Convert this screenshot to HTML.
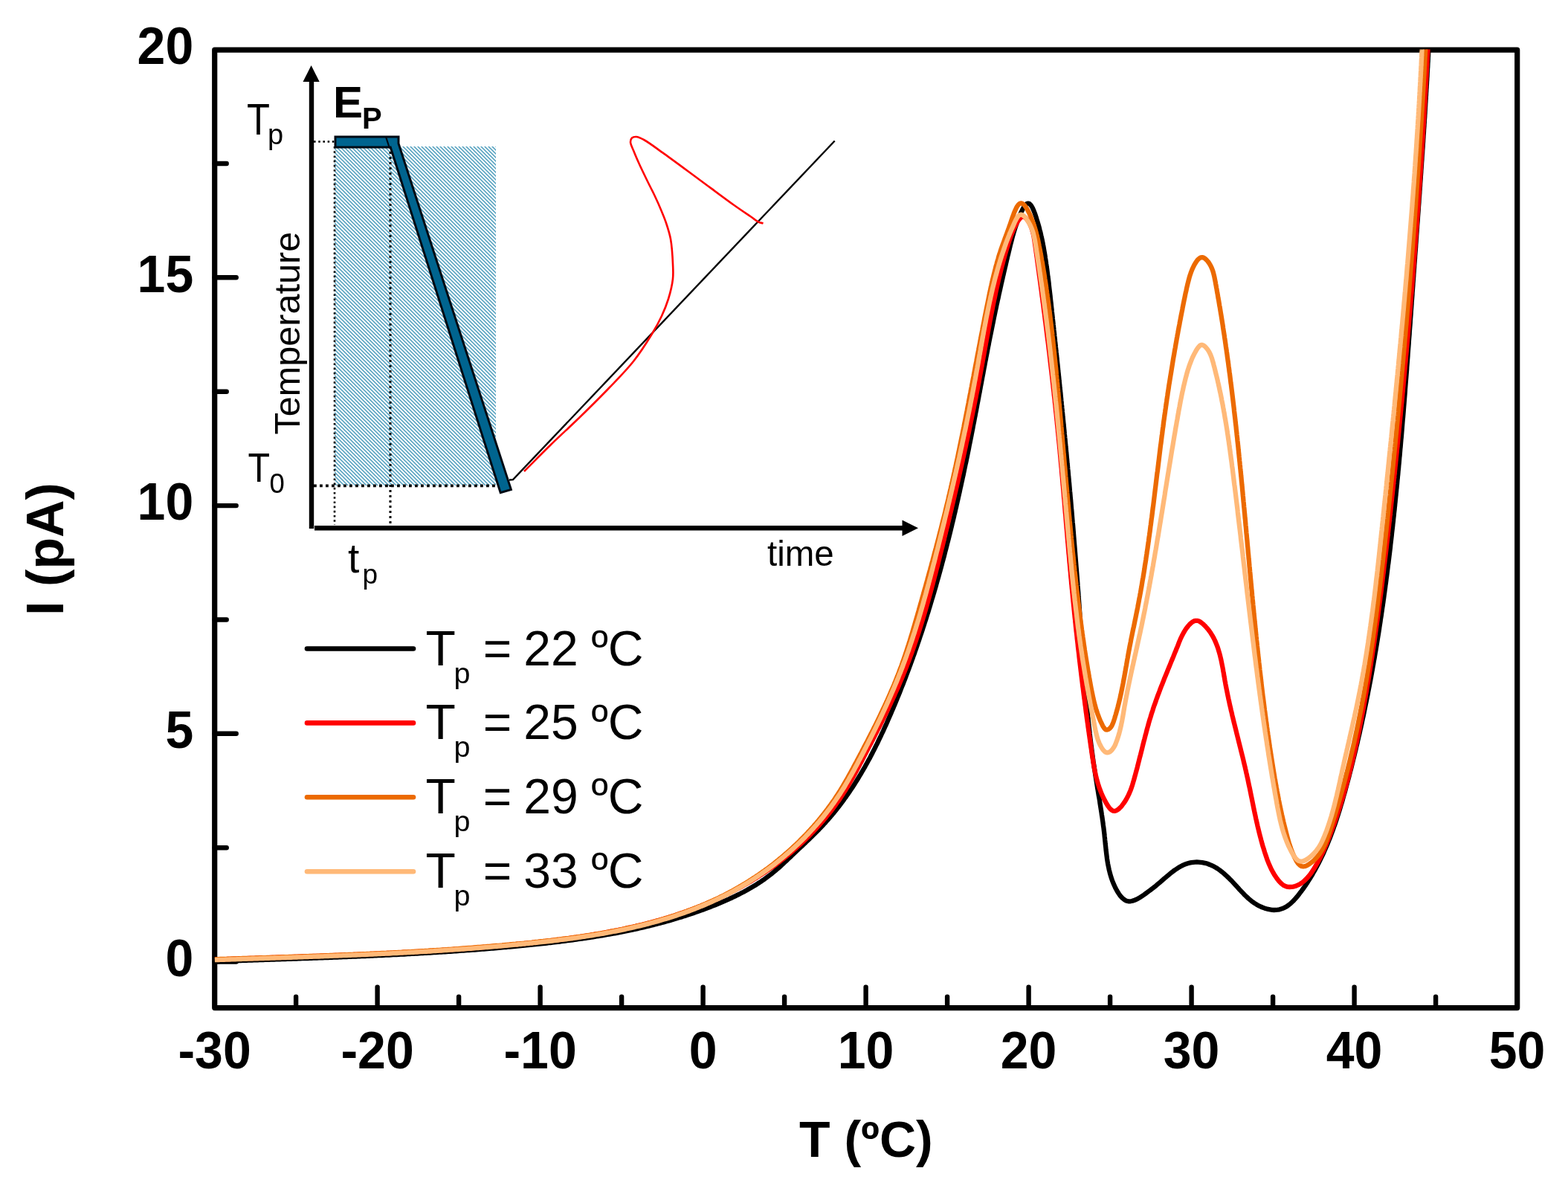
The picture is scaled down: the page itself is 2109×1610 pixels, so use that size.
<!DOCTYPE html>
<html><head><meta charset="utf-8"><title>TSDC plot</title>
<style>html,body{margin:0;padding:0;background:#fff;overflow:hidden}svg{display:block}</style>
</head><body>
<svg xmlns="http://www.w3.org/2000/svg" width="2109" height="1610" viewBox="0 0 2109 1610">
<rect x="0" y="0" width="2109" height="1610" fill="#fff"/>
<defs><clipPath id="pc"><rect x="288.5" y="66.6" width="1752" height="1287"/></clipPath><pattern id="hatch" patternUnits="userSpaceOnUse" width="5" height="5"><rect width="5" height="5" fill="#fff"/><path d="M-2.5,-2.5 L7.5,7.5 M-2.5,2.5 L2.5,7.5 M2.5,-2.5 L7.5,2.5" stroke="#4f9ebd" stroke-width="1.55"/></pattern></defs>
<rect x="288.7" y="67.2" width="1752.0" height="1288.4" fill="none" stroke="#000" stroke-width="7.2" stroke-linejoin="round"/>
<line x1="288.7" y1="1293.6" x2="317.7" y2="1293.6" stroke="#000" stroke-width="6.4" stroke-linecap="round"/>
<line x1="288.7" y1="986.8" x2="317.7" y2="986.8" stroke="#000" stroke-width="6.4" stroke-linecap="round"/>
<line x1="288.7" y1="680.1" x2="317.7" y2="680.1" stroke="#000" stroke-width="6.4" stroke-linecap="round"/>
<line x1="288.7" y1="373.3" x2="317.7" y2="373.3" stroke="#000" stroke-width="6.4" stroke-linecap="round"/>
<line x1="288.7" y1="1140.2" x2="304.7" y2="1140.2" stroke="#000" stroke-width="6.4" stroke-linecap="round"/>
<line x1="288.7" y1="833.5" x2="304.7" y2="833.5" stroke="#000" stroke-width="6.4" stroke-linecap="round"/>
<line x1="288.7" y1="526.7" x2="304.7" y2="526.7" stroke="#000" stroke-width="6.4" stroke-linecap="round"/>
<line x1="288.7" y1="220.0" x2="304.7" y2="220.0" stroke="#000" stroke-width="6.4" stroke-linecap="round"/>
<line x1="507.6" y1="1355.6" x2="507.6" y2="1327.6" stroke="#000" stroke-width="6.4" stroke-linecap="round"/>
<line x1="726.6" y1="1355.6" x2="726.6" y2="1327.6" stroke="#000" stroke-width="6.4" stroke-linecap="round"/>
<line x1="945.6" y1="1355.6" x2="945.6" y2="1327.6" stroke="#000" stroke-width="6.4" stroke-linecap="round"/>
<line x1="1164.6" y1="1355.6" x2="1164.6" y2="1327.6" stroke="#000" stroke-width="6.4" stroke-linecap="round"/>
<line x1="1383.6" y1="1355.6" x2="1383.6" y2="1327.6" stroke="#000" stroke-width="6.4" stroke-linecap="round"/>
<line x1="1602.6" y1="1355.6" x2="1602.6" y2="1327.6" stroke="#000" stroke-width="6.4" stroke-linecap="round"/>
<line x1="1821.6" y1="1355.6" x2="1821.6" y2="1327.6" stroke="#000" stroke-width="6.4" stroke-linecap="round"/>
<line x1="398.1" y1="1355.6" x2="398.1" y2="1340.6" stroke="#000" stroke-width="6.4" stroke-linecap="round"/>
<line x1="617.1" y1="1355.6" x2="617.1" y2="1340.6" stroke="#000" stroke-width="6.4" stroke-linecap="round"/>
<line x1="836.1" y1="1355.6" x2="836.1" y2="1340.6" stroke="#000" stroke-width="6.4" stroke-linecap="round"/>
<line x1="1055.1" y1="1355.6" x2="1055.1" y2="1340.6" stroke="#000" stroke-width="6.4" stroke-linecap="round"/>
<line x1="1274.1" y1="1355.6" x2="1274.1" y2="1340.6" stroke="#000" stroke-width="6.4" stroke-linecap="round"/>
<line x1="1493.1" y1="1355.6" x2="1493.1" y2="1340.6" stroke="#000" stroke-width="6.4" stroke-linecap="round"/>
<line x1="1712.1" y1="1355.6" x2="1712.1" y2="1340.6" stroke="#000" stroke-width="6.4" stroke-linecap="round"/>
<line x1="1931.1" y1="1355.6" x2="1931.1" y2="1340.6" stroke="#000" stroke-width="6.4" stroke-linecap="round"/>
<g clip-path="url(#pc)" fill="none" stroke-linejoin="round" stroke-linecap="butt">
<path d="M289.0,1293.2 L291.5,1293.1 L294.0,1293.0 L296.5,1292.9 L299.0,1292.9 L301.5,1292.8 L304.0,1292.7 L306.5,1292.6 L309.0,1292.5 L311.5,1292.4 L314.0,1292.3 L316.5,1292.3 L319.0,1292.2 L321.5,1292.1 L324.0,1292.0 L326.5,1291.9 L329.0,1291.8 L331.5,1291.8 L334.0,1291.7 L336.5,1291.6 L339.0,1291.5 L341.5,1291.4 L344.0,1291.3 L346.5,1291.3 L349.0,1291.2 L351.5,1291.1 L354.0,1291.0 L356.5,1290.9 L359.0,1290.9 L361.5,1290.8 L363.9,1290.7 L366.4,1290.6 L368.9,1290.5 L371.4,1290.4 L373.9,1290.4 L376.4,1290.3 L378.9,1290.2 L381.4,1290.1 L383.9,1290.0 L386.4,1289.9 L388.9,1289.8 L391.4,1289.8 L393.9,1289.7 L396.4,1289.6 L398.9,1289.5 L401.4,1289.4 L403.9,1289.3 L406.4,1289.2 L408.9,1289.2 L411.4,1289.1 L413.9,1289.0 L416.4,1288.9 L418.9,1288.8 L421.4,1288.7 L423.9,1288.6 L426.4,1288.5 L428.9,1288.4 L431.4,1288.4 L433.9,1288.3 L436.4,1288.2 L438.9,1288.1 L441.3,1288.0 L443.8,1287.9 L446.3,1287.8 L448.8,1287.7 L451.3,1287.6 L453.8,1287.5 L456.3,1287.4 L458.8,1287.3 L461.3,1287.2 L463.8,1287.1 L466.3,1287.0 L468.8,1286.9 L471.3,1286.8 L473.8,1286.7 L476.3,1286.6 L478.8,1286.5 L481.3,1286.4 L483.8,1286.3 L486.3,1286.2 L488.8,1286.1 L491.2,1286.0 L493.7,1285.9 L496.2,1285.8 L498.7,1285.6 L501.2,1285.5 L503.7,1285.4 L506.2,1285.3 L508.7,1285.2 L511.2,1285.1 L513.7,1285.0 L516.2,1284.8 L518.7,1284.7 L521.2,1284.6 L523.7,1284.5 L526.2,1284.4 L528.7,1284.2 L531.2,1284.1 L533.6,1284.0 L536.1,1283.9 L538.6,1283.7 L541.1,1283.6 L543.6,1283.5 L546.1,1283.3 L548.6,1283.2 L551.1,1283.1 L553.6,1282.9 L556.1,1282.8 L558.6,1282.7 L561.1,1282.5 L563.6,1282.4 L566.1,1282.2 L568.5,1282.1 L571.0,1281.9 L573.5,1281.8 L576.0,1281.7 L578.5,1281.5 L581.0,1281.4 L583.5,1281.2 L586.0,1281.0 L588.5,1280.9 L591.0,1280.7 L593.5,1280.6 L596.0,1280.4 L598.5,1280.3 L601.0,1280.1 L603.4,1279.9 L605.9,1279.8 L608.4,1279.6 L610.9,1279.4 L613.4,1279.3 L615.9,1279.1 L618.4,1278.9 L620.9,1278.7 L623.4,1278.6 L625.9,1278.4 L628.4,1278.2 L630.9,1278.0 L633.3,1277.8 L635.8,1277.6 L638.3,1277.5 L640.8,1277.3 L643.3,1277.1 L645.8,1276.9 L648.3,1276.7 L650.8,1276.5 L653.3,1276.3 L655.8,1276.1 L658.3,1275.9 L660.8,1275.7 L663.2,1275.5 L665.7,1275.3 L668.2,1275.1 L670.7,1274.8 L673.2,1274.6 L675.7,1274.4 L678.2,1274.2 L680.7,1274.0 L683.2,1273.7 L685.7,1273.5 L688.2,1273.3 L690.7,1273.1 L693.1,1272.8 L695.6,1272.6 L698.1,1272.4 L700.6,1272.1 L703.1,1271.9 L705.6,1271.6 L708.1,1271.4 L710.6,1271.2 L713.1,1270.9 L715.6,1270.6 L718.1,1270.4 L720.5,1270.1 L723.0,1269.9 L725.5,1269.6 L728.0,1269.3 L730.5,1269.1 L733.0,1268.8 L735.5,1268.5 L738.0,1268.2 L740.5,1268.0 L742.9,1267.7 L745.4,1267.4 L747.9,1267.1 L750.4,1266.8 L752.9,1266.5 L755.4,1266.2 L757.9,1265.9 L760.3,1265.6 L762.8,1265.2 L765.3,1264.9 L767.8,1264.6 L770.3,1264.3 L772.7,1263.9 L775.2,1263.6 L777.7,1263.2 L780.2,1262.9 L782.6,1262.5 L785.1,1262.2 L787.6,1261.8 L790.1,1261.4 L792.5,1261.1 L795.0,1260.7 L797.5,1260.3 L799.9,1259.9 L802.4,1259.5 L804.9,1259.1 L807.3,1258.7 L809.8,1258.3 L812.3,1257.9 L814.7,1257.5 L817.2,1257.0 L819.6,1256.6 L822.1,1256.2 L824.6,1255.7 L827.0,1255.3 L829.5,1254.8 L831.9,1254.3 L834.4,1253.9 L836.8,1253.4 L839.3,1252.9 L841.7,1252.4 L844.2,1251.9 L846.6,1251.4 L849.0,1250.9 L851.5,1250.4 L853.9,1249.8 L856.3,1249.3 L858.8,1248.8 L861.2,1248.2 L863.6,1247.7 L866.1,1247.1 L868.5,1246.5 L870.9,1245.9 L873.3,1245.4 L875.8,1244.8 L878.2,1244.2 L880.6,1243.5 L883.0,1242.9 L885.4,1242.3 L887.8,1241.7 L890.2,1241.0 L892.6,1240.4 L895.0,1239.7 L897.4,1239.0 L899.8,1238.4 L902.2,1237.7 L904.6,1237.0 L907.0,1236.3 L909.4,1235.6 L911.8,1234.8 L914.2,1234.1 L916.6,1233.4 L918.9,1232.6 L921.3,1231.9 L923.7,1231.1 L926.1,1230.3 L928.4,1229.5 L930.8,1228.7 L933.2,1227.9 L935.5,1227.1 L937.9,1226.3 L940.2,1225.4 L942.6,1224.6 L945.0,1223.7 L947.3,1222.9 L949.6,1222.0 L952.0,1221.1 L954.3,1220.2 L956.7,1219.3 L959.0,1218.4 L961.3,1217.5 L963.7,1216.5 L966.0,1215.6 L968.3,1214.6 L970.6,1213.6 L972.9,1212.6 L975.2,1211.6 L977.5,1210.6 L979.8,1209.6 L982.1,1208.5 L984.4,1207.5 L986.6,1206.4 L988.9,1205.3 L991.2,1204.2 L993.4,1203.1 L995.6,1202.0 L997.9,1200.8 L1000.1,1199.7 L1002.3,1198.5 L1004.5,1197.3 L1006.7,1196.0 L1008.8,1194.8 L1011.0,1193.5 L1013.1,1192.3 L1015.3,1191.0 L1017.4,1189.7 L1019.5,1188.3 L1021.6,1187.0 L1023.7,1185.6 L1025.7,1184.2 L1027.8,1182.8 L1029.8,1181.3 L1031.8,1179.8 L1033.8,1178.3 L1035.8,1176.8 L1037.8,1175.3 L1039.7,1173.7 L1041.6,1172.1 L1043.5,1170.5 L1045.4,1168.9 L1047.3,1167.3 L1049.2,1165.6 L1051.0,1163.9 L1052.9,1162.2 L1054.7,1160.5 L1056.5,1158.8 L1058.4,1157.1 L1060.2,1155.3 L1062.0,1153.6 L1063.8,1151.9 L1065.6,1150.1 L1067.4,1148.4 L1069.3,1146.7 L1071.1,1145.0 L1072.9,1143.3 L1074.7,1141.5 L1076.6,1139.8 L1078.4,1138.1 L1080.2,1136.4 L1082.0,1134.7 L1083.8,1132.9 L1085.7,1131.2 L1087.5,1129.5 L1089.3,1127.7 L1091.1,1126.0 L1092.8,1124.3 L1094.6,1122.5 L1096.4,1120.7 L1098.2,1119.0 L1099.9,1117.2 L1101.7,1115.4 L1103.4,1113.6 L1105.1,1111.8 L1106.8,1110.0 L1108.5,1108.2 L1110.2,1106.3 L1111.8,1104.5 L1113.5,1102.6 L1115.1,1100.7 L1116.8,1098.8 L1118.4,1096.9 L1120.0,1095.0 L1121.6,1093.1 L1123.1,1091.2 L1124.7,1089.2 L1126.2,1087.3 L1127.8,1085.3 L1129.3,1083.3 L1130.8,1081.3 L1132.3,1079.3 L1133.8,1077.3 L1135.3,1075.3 L1136.7,1073.3 L1138.2,1071.3 L1139.6,1069.3 L1141.0,1067.2 L1142.4,1065.2 L1143.8,1063.1 L1145.2,1061.0 L1146.6,1059.0 L1147.9,1056.9 L1149.3,1054.8 L1150.6,1052.7 L1151.9,1050.6 L1153.2,1048.5 L1154.5,1046.3 L1155.8,1044.2 L1157.1,1042.1 L1158.4,1039.9 L1159.6,1037.8 L1160.9,1035.6 L1162.1,1033.5 L1163.4,1031.3 L1164.6,1029.1 L1165.8,1026.9 L1167.0,1024.8 L1168.2,1022.6 L1169.4,1020.4 L1170.6,1018.2 L1171.7,1016.0 L1172.9,1013.7 L1174.0,1011.5 L1175.2,1009.3 L1176.3,1007.1 L1177.4,1004.8 L1178.5,1002.6 L1179.7,1000.4 L1180.8,998.1 L1181.8,995.9 L1182.9,993.6 L1184.0,991.4 L1185.1,989.1 L1186.1,986.8 L1187.2,984.6 L1188.3,982.3 L1189.3,980.0 L1190.3,977.7 L1191.4,975.5 L1192.4,973.2 L1193.4,970.9 L1194.4,968.6 L1195.4,966.3 L1196.4,964.0 L1197.4,961.7 L1198.4,959.4 L1199.4,957.1 L1200.4,954.8 L1201.4,952.5 L1202.3,950.2 L1203.3,947.9 L1204.3,945.6 L1205.2,943.3 L1206.2,941.0 L1207.1,938.6 L1208.1,936.3 L1209.0,934.0 L1210.0,931.7 L1210.9,929.4 L1211.8,927.0 L1212.7,924.7 L1213.6,922.4 L1214.6,920.1 L1215.5,917.7 L1216.4,915.4 L1217.3,913.1 L1218.2,910.7 L1219.0,908.4 L1219.9,906.1 L1220.8,903.7 L1221.7,901.4 L1222.6,899.0 L1223.4,896.7 L1224.3,894.4 L1225.1,892.0 L1226.0,889.7 L1226.8,887.3 L1227.7,885.0 L1228.5,882.6 L1229.4,880.3 L1230.2,877.9 L1231.0,875.5 L1231.9,873.2 L1232.7,870.8 L1233.5,868.5 L1234.3,866.1 L1235.1,863.7 L1235.9,861.4 L1236.7,859.0 L1237.5,856.6 L1238.3,854.3 L1239.1,851.9 L1239.9,849.5 L1240.7,847.2 L1241.4,844.8 L1242.2,842.4 L1243.0,840.0 L1243.7,837.7 L1244.5,835.3 L1245.3,832.9 L1246.0,830.5 L1246.8,828.1 L1247.5,825.7 L1248.3,823.4 L1249.0,821.0 L1249.7,818.6 L1250.5,816.2 L1251.2,813.8 L1251.9,811.4 L1252.6,809.0 L1253.3,806.6 L1254.1,804.2 L1254.8,801.8 L1255.5,799.4 L1256.2,797.0 L1256.9,794.7 L1257.6,792.3 L1258.3,789.9 L1259.0,787.5 L1259.6,785.0 L1260.3,782.6 L1261.0,780.2 L1261.7,777.8 L1262.4,775.4 L1263.0,773.0 L1263.7,770.6 L1264.4,768.2 L1265.0,765.8 L1265.7,763.4 L1266.3,761.0 L1267.0,758.6 L1267.6,756.1 L1268.3,753.7 L1268.9,751.3 L1269.6,748.9 L1270.2,746.5 L1270.8,744.1 L1271.4,741.6 L1272.1,739.2 L1272.7,736.8 L1273.3,734.4 L1273.9,732.0 L1274.5,729.5 L1275.2,727.1 L1275.8,724.7 L1276.4,722.3 L1277.0,719.8 L1277.6,717.4 L1278.2,715.0 L1278.8,712.6 L1279.4,710.1 L1280.0,707.7 L1280.5,705.3 L1281.1,702.9 L1281.7,700.4 L1282.3,698.0 L1282.9,695.6 L1283.4,693.1 L1284.0,690.7 L1284.6,688.3 L1285.1,685.8 L1285.7,683.4 L1286.3,681.0 L1286.8,678.5 L1287.4,676.1 L1287.9,673.7 L1288.5,671.2 L1289.0,668.8 L1289.6,666.3 L1290.1,663.9 L1290.7,661.5 L1291.2,659.0 L1291.7,656.6 L1292.3,654.1 L1292.8,651.7 L1293.3,649.3 L1293.9,646.8 L1294.4,644.4 L1294.9,641.9 L1295.5,639.5 L1296.0,637.1 L1296.5,634.6 L1297.0,632.2 L1297.5,629.7 L1298.0,627.3 L1298.5,624.8 L1299.1,622.4 L1299.6,620.0 L1300.1,617.5 L1300.6,615.1 L1301.1,612.6 L1301.6,610.2 L1302.1,607.7 L1302.6,605.3 L1303.1,602.8 L1303.5,600.4 L1304.0,597.9 L1304.5,595.5 L1305.0,593.1 L1305.5,590.6 L1306.0,588.2 L1306.5,585.7 L1306.9,583.3 L1307.4,580.8 L1307.9,578.4 L1308.4,575.9 L1308.8,573.5 L1309.3,571.0 L1309.8,568.6 L1310.3,566.1 L1310.7,563.7 L1311.2,561.2 L1311.7,558.8 L1312.1,556.3 L1312.6,553.9 L1313.1,551.5 L1313.5,549.0 L1314.0,546.6 L1314.4,544.1 L1314.9,541.7 L1315.4,539.2 L1315.8,536.8 L1316.3,534.3 L1316.7,531.9 L1317.2,529.4 L1317.7,527.0 L1318.1,524.5 L1318.6,522.1 L1319.0,519.6 L1319.5,517.1 L1320.0,514.7 L1320.4,512.2 L1320.9,509.8 L1321.3,507.3 L1321.8,504.9 L1322.3,502.4 L1322.7,500.0 L1323.2,497.5 L1323.6,495.1 L1324.1,492.6 L1324.6,490.1 L1325.0,487.7 L1325.5,485.2 L1326.0,482.8 L1326.4,480.3 L1326.9,477.8 L1327.4,475.4 L1327.9,472.9 L1328.3,470.5 L1328.8,468.0 L1329.3,465.5 L1329.8,463.1 L1330.2,460.6 L1330.7,458.1 L1331.2,455.7 L1331.7,453.2 L1332.2,450.7 L1332.7,448.3 L1333.2,445.8 L1333.7,443.3 L1334.2,440.9 L1334.7,438.4 L1335.2,435.9 L1335.7,433.5 L1336.2,431.0 L1336.7,428.5 L1337.2,426.0 L1337.7,423.6 L1338.2,421.1 L1338.7,418.6 L1339.3,416.1 L1339.8,413.6 L1340.3,411.2 L1340.8,408.7 L1341.4,406.2 L1341.9,403.7 L1342.5,401.3 L1343.0,398.8 L1343.5,396.3 L1344.1,393.8 L1344.6,391.4 L1345.2,388.9 L1345.7,386.5 L1346.3,384.0 L1346.8,381.5 L1347.4,379.1 L1347.9,376.7 L1348.5,374.2 L1349.0,371.8 L1349.6,369.4 L1350.1,367.0 L1350.7,364.5 L1351.3,362.1 L1351.8,359.7 L1352.4,357.4 L1352.9,355.0 L1353.5,352.6 L1354.0,350.2 L1354.6,347.9 L1355.1,345.5 L1355.7,343.2 L1356.3,340.9 L1356.8,338.6 L1357.4,336.3 L1357.9,334.0 L1358.5,331.7 L1359.0,329.4 L1359.6,327.1 L1360.2,324.9 L1360.8,322.6 L1361.4,320.3 L1362.0,317.9 L1362.7,315.6 L1363.4,313.2 L1364.1,310.8 L1364.9,308.3 L1365.7,305.8 L1366.6,303.3 L1367.5,300.7 L1368.4,298.0 L1369.5,295.3 L1370.6,292.5 L1371.7,289.7 L1372.9,286.8 L1374.2,284.1 L1375.5,281.5 L1376.8,279.1 L1378.1,277.1 L1379.5,275.4 L1380.8,274.2 L1382.2,273.6 L1383.5,273.6 L1384.8,274.2 L1386.0,275.3 L1387.3,277.0 L1388.5,279.0 L1389.6,281.4 L1390.7,284.0 L1391.8,286.9 L1392.8,289.8 L1393.8,292.8 L1394.7,295.8 L1395.6,298.7 L1396.4,301.4 L1397.2,304.1 L1397.9,306.8 L1398.5,309.3 L1399.2,311.8 L1399.8,314.3 L1400.3,316.7 L1400.9,319.1 L1401.4,321.4 L1401.9,323.7 L1402.3,326.0 L1402.8,328.4 L1403.2,330.7 L1403.7,333.0 L1404.1,335.4 L1404.5,337.7 L1404.9,340.1 L1405.3,342.4 L1405.7,344.8 L1406.0,347.2 L1406.4,349.6 L1406.8,352.0 L1407.1,354.4 L1407.5,356.9 L1407.8,359.3 L1408.2,361.8 L1408.5,364.2 L1408.8,366.7 L1409.1,369.1 L1409.4,371.6 L1409.8,374.1 L1410.1,376.5 L1410.4,379.0 L1410.7,381.5 L1410.9,384.0 L1411.2,386.5 L1411.5,389.0 L1411.8,391.5 L1412.1,394.0 L1412.4,396.5 L1412.7,399.0 L1412.9,401.5 L1413.2,404.0 L1413.5,406.5 L1413.8,409.0 L1414.0,411.5 L1414.3,414.0 L1414.6,416.5 L1414.8,419.0 L1415.1,421.6 L1415.4,424.1 L1415.7,426.6 L1415.9,429.1 L1416.2,431.6 L1416.5,434.1 L1416.7,436.6 L1417.0,439.1 L1417.3,441.6 L1417.5,444.1 L1417.8,446.6 L1418.1,449.1 L1418.3,451.6 L1418.6,454.1 L1418.9,456.6 L1419.1,459.1 L1419.4,461.6 L1419.7,464.1 L1419.9,466.6 L1420.2,469.1 L1420.5,471.6 L1420.7,474.1 L1421.0,476.6 L1421.3,479.0 L1421.5,481.5 L1421.8,484.0 L1422.0,486.5 L1422.3,489.0 L1422.6,491.5 L1422.8,494.0 L1423.1,496.5 L1423.3,499.0 L1423.6,501.5 L1423.9,504.0 L1424.1,506.5 L1424.4,509.0 L1424.6,511.5 L1424.9,514.0 L1425.1,516.4 L1425.4,518.9 L1425.6,521.4 L1425.9,523.9 L1426.2,526.4 L1426.4,528.9 L1426.7,531.4 L1426.9,533.9 L1427.2,536.4 L1427.4,538.8 L1427.7,541.3 L1427.9,543.8 L1428.2,546.3 L1428.4,548.8 L1428.7,551.3 L1428.9,553.8 L1429.2,556.3 L1429.4,558.8 L1429.6,561.2 L1429.9,563.7 L1430.1,566.2 L1430.4,568.7 L1430.6,571.2 L1430.9,573.7 L1431.1,576.2 L1431.4,578.6 L1431.6,581.1 L1431.8,583.6 L1432.1,586.1 L1432.3,588.6 L1432.6,591.1 L1432.8,593.5 L1433.0,596.0 L1433.3,598.5 L1433.5,601.0 L1433.8,603.5 L1434.0,606.0 L1434.2,608.5 L1434.5,610.9 L1434.7,613.4 L1434.9,615.9 L1435.2,618.4 L1435.4,620.9 L1435.6,623.4 L1435.9,625.8 L1436.1,628.3 L1436.3,630.8 L1436.6,633.3 L1436.8,635.8 L1437.0,638.3 L1437.2,640.7 L1437.5,643.2 L1437.7,645.7 L1437.9,648.2 L1438.2,650.7 L1438.4,653.2 L1438.6,655.6 L1438.8,658.1 L1439.0,660.6 L1439.3,663.1 L1439.5,665.6 L1439.7,668.1 L1439.9,670.5 L1440.2,673.0 L1440.4,675.5 L1440.6,678.0 L1440.8,680.5 L1441.0,683.0 L1441.2,685.4 L1441.5,687.9 L1441.7,690.4 L1441.9,692.9 L1442.1,695.4 L1442.3,697.9 L1442.5,700.3 L1442.7,702.8 L1443.0,705.3 L1443.2,707.8 L1443.4,710.3 L1443.6,712.8 L1443.8,715.2 L1444.0,717.7 L1444.2,720.2 L1444.4,722.7 L1444.6,725.2 L1444.8,727.7 L1445.0,730.2 L1445.2,732.6 L1445.4,735.1 L1445.6,737.6 L1445.8,740.1 L1446.0,742.6 L1446.2,745.1 L1446.4,747.6 L1446.6,750.0 L1446.8,752.5 L1447.0,755.0 L1447.2,757.5 L1447.4,760.0 L1447.6,762.5 L1447.8,765.0 L1448.0,767.5 L1448.2,769.9 L1448.4,772.4 L1448.6,774.9 L1448.8,777.4 L1449.0,779.9 L1449.2,782.4 L1449.4,784.9 L1449.5,787.4 L1449.7,789.9 L1449.9,792.3 L1450.1,794.8 L1450.3,797.3 L1450.5,799.8 L1450.6,802.3 L1450.8,804.8 L1451.0,807.3 L1451.2,809.8 L1451.4,812.3 L1451.6,814.8 L1451.7,817.3 L1451.9,819.8 L1452.1,822.3 L1452.3,824.8 L1452.4,827.2 L1452.6,829.7 L1452.8,832.2 L1453.0,834.7 L1453.1,837.2 L1453.3,839.7 L1453.5,842.2 L1453.7,844.7 L1453.8,847.2 L1454.0,849.7 L1454.2,852.2 L1454.4,854.7 L1454.5,857.2 L1454.7,859.7 L1454.9,862.2 L1455.1,864.7 L1455.2,867.2 L1455.4,869.7 L1455.6,872.2 L1455.8,874.7 L1455.9,877.2 L1456.1,879.7 L1456.3,882.2 L1456.5,884.7 L1456.7,887.2 L1456.9,889.7 L1457.0,892.2 L1457.2,894.7 L1457.4,897.1 L1457.6,899.6 L1457.8,902.1 L1458.0,904.6 L1458.2,907.1 L1458.4,909.6 L1458.6,912.1 L1458.8,914.6 L1459.0,917.1 L1459.2,919.6 L1459.4,922.1 L1459.6,924.6 L1459.8,927.1 L1460.0,929.6 L1460.2,932.1 L1460.5,934.6 L1460.7,937.1 L1460.9,939.5 L1461.1,942.0 L1461.4,944.5 L1461.6,947.0 L1461.8,949.5 L1462.1,952.0 L1462.3,954.5 L1462.6,957.0 L1462.8,959.5 L1463.0,962.0 L1463.3,964.4 L1463.6,966.9 L1463.8,969.4 L1464.1,971.9 L1464.3,974.4 L1464.6,976.9 L1464.9,979.3 L1465.2,981.8 L1465.5,984.3 L1465.7,986.8 L1466.0,989.3 L1466.3,991.8 L1466.6,994.2 L1466.9,996.7 L1467.2,999.2 L1467.5,1001.7 L1467.8,1004.1 L1468.2,1006.6 L1468.5,1009.1 L1468.8,1011.6 L1469.2,1014.0 L1469.5,1016.5 L1469.8,1019.0 L1470.2,1021.5 L1470.5,1023.9 L1470.9,1026.4 L1471.3,1028.9 L1471.6,1031.3 L1472.0,1033.8 L1472.4,1036.3 L1472.8,1038.7 L1473.1,1041.2 L1473.5,1043.6 L1473.9,1046.1 L1474.3,1048.6 L1474.7,1051.0 L1475.1,1053.5 L1475.5,1056.0 L1475.9,1058.4 L1476.3,1060.9 L1476.7,1063.3 L1477.1,1065.8 L1477.5,1068.3 L1477.9,1070.7 L1478.4,1073.2 L1478.8,1075.6 L1479.2,1078.1 L1479.5,1080.6 L1479.9,1083.0 L1480.3,1085.5 L1480.7,1088.0 L1481.1,1090.4 L1481.5,1092.9 L1481.8,1095.4 L1482.2,1097.8 L1482.6,1100.3 L1482.9,1102.8 L1483.3,1105.2 L1483.6,1107.7 L1483.9,1110.2 L1484.3,1112.7 L1484.6,1115.1 L1484.9,1117.6 L1485.2,1120.1 L1485.5,1122.6 L1485.7,1125.1 L1486.0,1127.6 L1486.2,1130.1 L1486.5,1132.5 L1486.7,1135.0 L1487.0,1137.5 L1487.3,1140.0 L1487.5,1142.5 L1487.8,1145.0 L1488.1,1147.5 L1488.4,1150.0 L1488.7,1152.4 L1489.0,1154.9 L1489.4,1157.4 L1489.8,1159.9 L1490.2,1162.3 L1490.7,1164.8 L1491.2,1167.2 L1491.7,1169.7 L1492.3,1172.1 L1492.9,1174.5 L1493.6,1176.9 L1494.3,1179.3 L1495.1,1181.7 L1495.9,1184.1 L1496.8,1186.4 L1497.8,1188.8 L1498.8,1191.1 L1499.9,1193.5 L1501.1,1195.8 L1502.4,1198.1 L1503.7,1200.3 L1505.1,1202.5 L1506.6,1204.6 L1508.2,1206.5 L1509.9,1208.2 L1511.7,1209.7 L1513.5,1210.9 L1515.5,1211.8 L1517.6,1212.3 L1519.8,1212.3 L1522.0,1212.0 L1524.4,1211.4 L1526.7,1210.5 L1529.2,1209.4 L1531.6,1208.1 L1534.0,1206.6 L1536.3,1205.1 L1538.7,1203.5 L1540.9,1201.9 L1543.1,1200.3 L1545.1,1198.8 L1547.2,1197.3 L1549.1,1195.8 L1551.1,1194.3 L1553.0,1192.8 L1554.8,1191.3 L1556.7,1189.7 L1558.5,1188.2 L1560.4,1186.6 L1562.2,1185.0 L1564.1,1183.4 L1566.0,1181.7 L1567.9,1180.1 L1569.9,1178.4 L1571.8,1176.8 L1573.8,1175.1 L1575.8,1173.5 L1577.9,1171.9 L1580.0,1170.4 L1582.1,1169.0 L1584.2,1167.6 L1586.4,1166.2 L1588.6,1165.0 L1590.8,1163.9 L1593.0,1162.9 L1595.3,1162.0 L1597.7,1161.2 L1600.0,1160.6 L1602.4,1160.1 L1604.9,1159.8 L1607.3,1159.6 L1609.7,1159.5 L1612.2,1159.6 L1614.6,1159.8 L1617.1,1160.1 L1619.5,1160.6 L1621.9,1161.1 L1624.2,1161.8 L1626.5,1162.7 L1628.8,1163.6 L1631.0,1164.6 L1633.2,1165.8 L1635.4,1167.0 L1637.5,1168.3 L1639.6,1169.8 L1641.6,1171.2 L1643.6,1172.8 L1645.6,1174.4 L1647.5,1176.1 L1649.4,1177.8 L1651.3,1179.6 L1653.2,1181.4 L1655.0,1183.2 L1656.8,1185.0 L1658.5,1186.9 L1660.3,1188.8 L1662.0,1190.7 L1663.7,1192.5 L1665.4,1194.4 L1667.1,1196.3 L1668.8,1198.1 L1670.5,1199.9 L1672.2,1201.7 L1673.9,1203.5 L1675.7,1205.2 L1677.5,1206.9 L1679.3,1208.6 L1681.1,1210.1 L1683.0,1211.7 L1685.0,1213.2 L1687.0,1214.6 L1689.1,1215.9 L1691.2,1217.2 L1693.4,1218.4 L1695.7,1219.5 L1698.1,1220.5 L1700.6,1221.4 L1703.1,1222.2 L1705.8,1222.9 L1708.4,1223.4 L1711.0,1223.8 L1713.6,1224.0 L1716.1,1223.9 L1718.5,1223.7 L1720.9,1223.3 L1723.2,1222.6 L1725.4,1221.8 L1727.5,1220.9 L1729.6,1219.8 L1731.6,1218.5 L1733.5,1217.1 L1735.4,1215.6 L1737.2,1214.0 L1739.0,1212.3 L1740.7,1210.5 L1742.4,1208.6 L1744.1,1206.7 L1745.7,1204.7 L1747.3,1202.7 L1748.8,1200.7 L1750.4,1198.6 L1751.9,1196.5 L1753.4,1194.5 L1754.8,1192.4 L1756.3,1190.3 L1757.7,1188.2 L1759.1,1186.0 L1760.4,1183.9 L1761.8,1181.8 L1763.1,1179.6 L1764.4,1177.5 L1765.7,1175.3 L1766.9,1173.1 L1768.2,1170.9 L1769.4,1168.7 L1770.6,1166.5 L1771.8,1164.3 L1773.0,1162.1 L1774.1,1159.9 L1775.2,1157.6 L1776.3,1155.4 L1777.4,1153.2 L1778.5,1150.9 L1779.6,1148.6 L1780.6,1146.4 L1781.6,1144.1 L1782.6,1141.8 L1783.6,1139.5 L1784.6,1137.2 L1785.6,1134.9 L1786.5,1132.6 L1787.4,1130.3 L1788.4,1128.0 L1789.3,1125.7 L1790.2,1123.3 L1791.0,1121.0 L1791.9,1118.7 L1792.8,1116.3 L1793.6,1114.0 L1794.4,1111.6 L1795.3,1109.3 L1796.1,1106.9 L1796.9,1104.5 L1797.7,1102.2 L1798.4,1099.8 L1799.2,1097.4 L1800.0,1095.0 L1800.7,1092.7 L1801.5,1090.3 L1802.2,1087.9 L1802.9,1085.5 L1803.6,1083.1 L1804.4,1080.7 L1805.1,1078.3 L1805.8,1075.9 L1806.4,1073.5 L1807.1,1071.1 L1807.8,1068.7 L1808.5,1066.3 L1809.2,1063.9 L1809.8,1061.5 L1810.5,1059.0 L1811.1,1056.6 L1811.8,1054.2 L1812.4,1051.8 L1813.1,1049.4 L1813.7,1047.0 L1814.4,1044.6 L1815.0,1042.1 L1815.6,1039.7 L1816.2,1037.3 L1816.9,1034.9 L1817.5,1032.5 L1818.1,1030.0 L1818.7,1027.6 L1819.3,1025.2 L1819.9,1022.8 L1820.5,1020.3 L1821.1,1017.9 L1821.7,1015.5 L1822.3,1013.1 L1822.9,1010.6 L1823.5,1008.2 L1824.0,1005.8 L1824.6,1003.3 L1825.2,1000.9 L1825.8,998.5 L1826.3,996.0 L1826.9,993.6 L1827.4,991.2 L1828.0,988.7 L1828.6,986.3 L1829.1,983.9 L1829.6,981.4 L1830.2,979.0 L1830.7,976.6 L1831.3,974.1 L1831.8,971.7 L1832.3,969.2 L1832.8,966.8 L1833.4,964.3 L1833.9,961.9 L1834.4,959.5 L1834.9,957.0 L1835.4,954.6 L1835.9,952.1 L1836.4,949.7 L1836.9,947.2 L1837.4,944.8 L1837.9,942.3 L1838.4,939.9 L1838.9,937.4 L1839.4,935.0 L1839.9,932.5 L1840.3,930.1 L1840.8,927.6 L1841.3,925.2 L1841.8,922.7 L1842.2,920.3 L1842.7,917.8 L1843.2,915.4 L1843.6,912.9 L1844.1,910.5 L1844.5,908.0 L1845.0,905.6 L1845.4,903.1 L1845.9,900.6 L1846.3,898.2 L1846.7,895.7 L1847.2,893.3 L1847.6,890.8 L1848.0,888.3 L1848.5,885.9 L1848.9,883.4 L1849.3,881.0 L1849.7,878.5 L1850.2,876.0 L1850.6,873.6 L1851.0,871.1 L1851.4,868.7 L1851.8,866.2 L1852.2,863.7 L1852.6,861.3 L1853.0,858.8 L1853.4,856.3 L1853.8,853.9 L1854.2,851.4 L1854.6,848.9 L1855.0,846.5 L1855.3,844.0 L1855.7,841.5 L1856.1,839.1 L1856.5,836.6 L1856.8,834.1 L1857.2,831.6 L1857.6,829.2 L1858.0,826.7 L1858.3,824.2 L1858.7,821.8 L1859.0,819.3 L1859.4,816.8 L1859.8,814.3 L1860.1,811.9 L1860.5,809.4 L1860.8,806.9 L1861.2,804.4 L1861.5,802.0 L1861.8,799.5 L1862.2,797.0 L1862.5,794.5 L1862.9,792.1 L1863.2,789.6 L1863.5,787.1 L1863.9,784.6 L1864.2,782.2 L1864.5,779.7 L1864.8,777.2 L1865.2,774.7 L1865.5,772.2 L1865.8,769.8 L1866.1,767.3 L1866.4,764.8 L1866.7,762.3 L1867.0,759.8 L1867.4,757.4 L1867.7,754.9 L1868.0,752.4 L1868.3,749.9 L1868.6,747.4 L1868.9,745.0 L1869.2,742.5 L1869.5,740.0 L1869.8,737.5 L1870.1,735.0 L1870.3,732.6 L1870.6,730.1 L1870.9,727.6 L1871.2,725.1 L1871.5,722.6 L1871.8,720.1 L1872.0,717.7 L1872.3,715.2 L1872.6,712.7 L1872.9,710.2 L1873.2,707.7 L1873.4,705.2 L1873.7,702.8 L1874.0,700.3 L1874.2,697.8 L1874.5,695.3 L1874.8,692.8 L1875.0,690.3 L1875.3,687.8 L1875.6,685.4 L1875.8,682.9 L1876.1,680.4 L1876.3,677.9 L1876.6,675.4 L1876.8,672.9 L1877.1,670.4 L1877.3,668.0 L1877.6,665.5 L1877.8,663.0 L1878.1,660.5 L1878.3,658.0 L1878.6,655.5 L1878.8,653.0 L1879.1,650.6 L1879.3,648.1 L1879.5,645.6 L1879.8,643.1 L1880.0,640.6 L1880.3,638.1 L1880.5,635.6 L1880.7,633.1 L1881.0,630.7 L1881.2,628.2 L1881.4,625.7 L1881.7,623.2 L1881.9,620.7 L1882.1,618.2 L1882.3,615.7 L1882.6,613.2 L1882.8,610.8 L1883.0,608.3 L1883.2,605.8 L1883.4,603.3 L1883.7,600.8 L1883.9,598.3 L1884.1,595.8 L1884.3,593.3 L1884.5,590.8 L1884.8,588.4 L1885.0,585.9 L1885.2,583.4 L1885.4,580.9 L1885.6,578.4 L1885.8,575.9 L1886.0,573.4 L1886.2,570.9 L1886.4,568.4 L1886.6,565.9 L1886.8,563.5 L1887.1,561.0 L1887.3,558.5 L1887.5,556.0 L1887.7,553.5 L1887.9,551.0 L1888.1,548.5 L1888.3,546.0 L1888.5,543.5 L1888.7,541.0 L1888.9,538.5 L1889.1,536.1 L1889.3,533.6 L1889.5,531.1 L1889.7,528.6 L1889.9,526.1 L1890.0,523.6 L1890.2,521.1 L1890.4,518.6 L1890.6,516.1 L1890.8,513.6 L1891.0,511.1 L1891.2,508.7 L1891.4,506.2 L1891.6,503.7 L1891.8,501.2 L1892.0,498.7 L1892.2,496.2 L1892.3,493.7 L1892.5,491.2 L1892.7,488.7 L1892.9,486.2 L1893.1,483.7 L1893.3,481.3 L1893.5,478.8 L1893.6,476.3 L1893.8,473.8 L1894.0,471.3 L1894.2,468.8 L1894.4,466.3 L1894.6,463.8 L1894.8,461.3 L1894.9,458.8 L1895.1,456.3 L1895.3,453.8 L1895.5,451.4 L1895.7,448.9 L1895.8,446.4 L1896.0,443.9 L1896.2,441.4 L1896.4,438.9 L1896.6,436.4 L1896.8,433.9 L1896.9,431.4 L1897.1,428.9 L1897.3,426.4 L1897.5,423.9 L1897.7,421.4 L1897.8,419.0 L1898.0,416.5 L1898.2,414.0 L1898.4,411.5 L1898.6,409.0 L1898.7,406.5 L1898.9,404.0 L1899.1,401.5 L1899.3,399.0 L1899.5,396.5 L1899.6,394.0 L1899.8,391.5 L1900.0,389.1 L1900.2,386.6 L1900.4,384.1 L1900.5,381.6 L1900.7,379.1 L1900.9,376.6 L1901.1,374.1 L1901.3,371.6 L1901.4,369.1 L1901.6,366.6 L1901.8,364.1 L1902.0,361.6 L1902.2,359.2 L1902.3,356.7 L1902.5,354.2 L1902.7,351.7 L1902.9,349.2 L1903.1,346.7 L1903.2,344.2 L1903.4,341.7 L1903.6,339.2 L1903.8,336.7 L1904.0,334.2 L1904.2,331.7 L1904.3,329.3 L1904.5,326.8 L1904.7,324.3 L1904.9,321.8 L1905.1,319.3 L1905.2,316.8 L1905.4,314.3 L1905.6,311.8 L1905.8,309.3 L1906.0,306.8 L1906.1,304.3 L1906.3,301.8 L1906.5,299.4 L1906.7,296.9 L1906.9,294.4 L1907.0,291.9 L1907.2,289.4 L1907.4,286.9 L1907.6,284.4 L1907.8,281.9 L1907.9,279.4 L1908.1,276.9 L1908.3,274.4 L1908.5,271.9 L1908.6,269.5 L1908.8,267.0 L1909.0,264.5 L1909.2,262.0 L1909.4,259.5 L1909.5,257.0 L1909.7,254.5 L1909.9,252.0 L1910.1,249.5 L1910.2,247.0 L1910.4,244.5 L1910.6,242.0 L1910.8,239.6 L1910.9,237.1 L1911.1,234.6 L1911.3,232.1 L1911.4,229.6 L1911.6,227.1 L1911.8,224.6 L1912.0,222.1 L1912.1,219.6 L1912.3,217.1 L1912.5,214.6 L1912.6,212.1 L1912.8,209.6 L1913.0,207.2 L1913.2,204.7 L1913.3,202.2 L1913.5,199.7 L1913.7,197.2 L1913.8,194.7 L1914.0,192.2 L1914.2,189.7 L1914.3,187.2 L1914.5,184.7 L1914.6,182.2 L1914.8,179.7 L1915.0,177.2 L1915.1,174.7 L1915.3,172.3 L1915.5,169.8 L1915.6,167.3 L1915.8,164.8 L1915.9,162.3 L1916.1,159.8 L1916.3,157.3 L1916.4,154.8 L1916.6,152.3 L1916.7,149.8 L1916.9,147.3 L1917.0,144.8 L1917.2,142.3 L1917.3,139.8 L1917.5,137.3 L1917.6,134.8 L1917.8,132.4 L1917.9,129.9 L1918.1,127.4 L1918.2,124.9 L1918.4,122.4 L1918.5,119.9 L1918.7,117.4 L1918.8,114.9 L1919.0,112.4 L1919.1,109.9 L1919.3,107.4 L1919.4,104.9 L1919.6,102.4 L1919.7,99.9 L1919.8,97.4 L1920.0,94.9 L1920.1,92.4 L1920.3,89.9 L1920.4,87.5 L1920.5,85.0 L1920.7,82.5 L1920.8,80.0 L1920.9,77.5 L1921.1,75.0 L1921.2,72.5 L1921.3,70.0 L1921.5,67.5 L1921.6,65.0 L1921.7,62.5 L1921.8,60.0" stroke="#000000" stroke-width="6.3"/>
<path d="M288.9,1290.7 L291.4,1290.6 L293.9,1290.5 L296.4,1290.4 L298.9,1290.3 L301.4,1290.2 L303.9,1290.1 L306.5,1290.0 L309.0,1289.9 L311.5,1289.8 L314.0,1289.7 L316.5,1289.6 L319.0,1289.6 L321.5,1289.5 L324.0,1289.4 L326.6,1289.3 L329.1,1289.2 L331.6,1289.1 L334.1,1289.0 L336.6,1288.9 L339.1,1288.8 L341.6,1288.8 L344.1,1288.7 L346.6,1288.6 L349.1,1288.5 L351.6,1288.4 L354.1,1288.3 L356.6,1288.2 L359.1,1288.2 L361.6,1288.1 L364.1,1288.0 L366.6,1287.9 L369.1,1287.8 L371.6,1287.7 L374.1,1287.7 L376.6,1287.6 L379.1,1287.5 L381.6,1287.4 L384.1,1287.3 L386.6,1287.2 L389.1,1287.1 L391.6,1287.1 L394.1,1287.0 L396.6,1286.9 L399.1,1286.8 L401.6,1286.7 L404.1,1286.6 L406.6,1286.5 L409.1,1286.5 L411.6,1286.4 L414.1,1286.3 L416.6,1286.2 L419.1,1286.1 L421.6,1286.0 L424.1,1285.9 L426.6,1285.9 L429.1,1285.8 L431.6,1285.7 L434.0,1285.6 L436.5,1285.5 L439.0,1285.4 L441.5,1285.3 L444.0,1285.2 L446.5,1285.1 L449.0,1285.0 L451.5,1284.9 L454.0,1284.8 L456.5,1284.8 L459.0,1284.7 L461.4,1284.6 L463.9,1284.5 L466.4,1284.4 L468.9,1284.3 L471.4,1284.2 L473.9,1284.1 L476.4,1284.0 L478.9,1283.9 L481.4,1283.8 L483.8,1283.7 L486.3,1283.6 L488.8,1283.5 L491.3,1283.4 L493.8,1283.2 L496.3,1283.1 L498.8,1283.0 L501.3,1282.9 L503.7,1282.8 L506.2,1282.7 L508.7,1282.6 L511.2,1282.5 L513.7,1282.4 L516.2,1282.3 L518.7,1282.1 L521.2,1282.0 L523.6,1281.9 L526.1,1281.8 L528.6,1281.7 L531.1,1281.5 L533.6,1281.4 L536.1,1281.3 L538.6,1281.2 L541.0,1281.0 L543.5,1280.9 L546.0,1280.8 L548.5,1280.7 L551.0,1280.5 L553.5,1280.4 L556.0,1280.3 L558.4,1280.1 L560.9,1280.0 L563.4,1279.9 L565.9,1279.7 L568.4,1279.6 L570.9,1279.4 L573.4,1279.3 L575.9,1279.1 L578.3,1279.0 L580.8,1278.8 L583.3,1278.7 L585.8,1278.5 L588.3,1278.4 L590.8,1278.2 L593.3,1278.1 L595.8,1277.9 L598.2,1277.8 L600.7,1277.6 L603.2,1277.4 L605.7,1277.3 L608.2,1277.1 L610.7,1276.9 L613.2,1276.8 L615.7,1276.6 L618.2,1276.4 L620.6,1276.2 L623.1,1276.1 L625.6,1275.9 L628.1,1275.7 L630.6,1275.5 L633.1,1275.3 L635.6,1275.1 L638.1,1274.9 L640.6,1274.8 L643.1,1274.6 L645.5,1274.4 L648.0,1274.2 L650.5,1274.0 L653.0,1273.8 L655.5,1273.6 L658.0,1273.4 L660.5,1273.2 L663.0,1272.9 L665.5,1272.7 L668.0,1272.5 L670.5,1272.3 L673.0,1272.1 L675.5,1271.9 L678.0,1271.6 L680.5,1271.4 L683.0,1271.2 L685.5,1270.9 L687.9,1270.7 L690.4,1270.5 L692.9,1270.2 L695.4,1270.0 L697.9,1269.8 L700.4,1269.5 L702.9,1269.3 L705.4,1269.0 L707.9,1268.8 L710.4,1268.5 L712.9,1268.2 L715.4,1268.0 L717.9,1267.7 L720.4,1267.5 L722.9,1267.2 L725.4,1266.9 L727.9,1266.6 L730.4,1266.4 L732.9,1266.1 L735.4,1265.8 L737.9,1265.5 L740.4,1265.2 L742.9,1264.9 L745.4,1264.6 L747.9,1264.3 L750.4,1264.0 L752.9,1263.7 L755.4,1263.3 L757.9,1263.0 L760.4,1262.7 L762.9,1262.3 L765.4,1262.0 L767.9,1261.7 L770.4,1261.3 L772.9,1261.0 L775.4,1260.6 L777.8,1260.2 L780.3,1259.9 L782.8,1259.5 L785.3,1259.1 L787.8,1258.7 L790.3,1258.4 L792.7,1258.0 L795.2,1257.6 L797.7,1257.2 L800.2,1256.7 L802.6,1256.3 L805.1,1255.9 L807.6,1255.5 L810.1,1255.0 L812.5,1254.6 L815.0,1254.1 L817.5,1253.7 L819.9,1253.2 L822.4,1252.7 L824.8,1252.3 L827.3,1251.8 L829.8,1251.3 L832.2,1250.8 L834.7,1250.3 L837.1,1249.8 L839.6,1249.3 L842.0,1248.7 L844.4,1248.2 L846.9,1247.7 L849.3,1247.1 L851.7,1246.6 L854.2,1246.0 L856.6,1245.4 L859.0,1244.9 L861.5,1244.3 L863.9,1243.7 L866.3,1243.1 L868.7,1242.5 L871.1,1241.8 L873.5,1241.2 L875.9,1240.6 L878.3,1239.9 L880.7,1239.3 L883.1,1238.6 L885.5,1237.9 L887.9,1237.2 L890.3,1236.6 L892.7,1235.9 L895.1,1235.1 L897.5,1234.4 L899.8,1233.7 L902.2,1233.0 L904.6,1232.2 L906.9,1231.5 L909.3,1230.7 L911.6,1229.9 L914.0,1229.1 L916.3,1228.3 L918.7,1227.5 L921.0,1226.7 L923.4,1225.9 L925.7,1225.0 L928.0,1224.2 L930.4,1223.3 L932.7,1222.5 L935.0,1221.6 L937.3,1220.7 L939.6,1219.8 L941.9,1218.9 L944.2,1218.0 L946.5,1217.0 L948.8,1216.1 L951.1,1215.1 L953.4,1214.2 L955.6,1213.2 L957.9,1212.2 L960.2,1211.2 L962.4,1210.2 L964.7,1209.1 L967.0,1208.1 L969.2,1207.0 L971.5,1206.0 L973.7,1204.9 L975.9,1203.8 L978.2,1202.7 L980.4,1201.6 L982.6,1200.5 L984.8,1199.3 L987.0,1198.2 L989.2,1197.0 L991.4,1195.8 L993.6,1194.7 L995.8,1193.5 L998.0,1192.2 L1000.1,1191.0 L1002.3,1189.8 L1004.5,1188.5 L1006.6,1187.2 L1008.8,1186.0 L1010.9,1184.7 L1013.1,1183.4 L1015.2,1182.0 L1017.3,1180.7 L1019.5,1179.4 L1021.6,1178.0 L1023.7,1176.6 L1025.8,1175.2 L1027.9,1173.8 L1029.9,1172.4 L1032.0,1171.0 L1034.1,1169.6 L1036.1,1168.1 L1038.2,1166.7 L1040.2,1165.2 L1042.3,1163.7 L1044.3,1162.2 L1046.3,1160.7 L1048.3,1159.2 L1050.3,1157.6 L1052.3,1156.1 L1054.3,1154.5 L1056.2,1152.9 L1058.2,1151.4 L1060.1,1149.8 L1062.1,1148.1 L1064.0,1146.5 L1065.9,1144.9 L1067.8,1143.2 L1069.7,1141.6 L1071.6,1139.9 L1073.5,1138.2 L1075.4,1136.6 L1077.2,1134.8 L1079.1,1133.1 L1080.9,1131.4 L1082.7,1129.7 L1084.5,1127.9 L1086.3,1126.2 L1088.1,1124.4 L1089.9,1122.6 L1091.6,1120.8 L1093.4,1119.0 L1095.1,1117.2 L1096.8,1115.3 L1098.5,1113.5 L1100.2,1111.6 L1101.9,1109.8 L1103.5,1107.9 L1105.2,1106.0 L1106.8,1104.1 L1108.4,1102.2 L1110.1,1100.3 L1111.6,1098.4 L1113.2,1096.4 L1114.8,1094.5 L1116.3,1092.5 L1117.9,1090.6 L1119.4,1088.6 L1120.9,1086.6 L1122.4,1084.6 L1123.9,1082.6 L1125.3,1080.5 L1126.7,1078.5 L1128.2,1076.5 L1129.6,1074.4 L1131.0,1072.3 L1132.3,1070.3 L1133.7,1068.2 L1135.0,1066.1 L1136.4,1064.0 L1137.7,1061.8 L1139.0,1059.7 L1140.3,1057.6 L1141.5,1055.5 L1142.8,1053.3 L1144.0,1051.1 L1145.2,1049.0 L1146.5,1046.8 L1147.7,1044.6 L1148.9,1042.5 L1150.1,1040.3 L1151.3,1038.1 L1152.5,1035.9 L1153.6,1033.7 L1154.8,1031.5 L1156.0,1029.3 L1157.1,1027.1 L1158.3,1024.9 L1159.5,1022.7 L1160.6,1020.4 L1161.8,1018.2 L1162.9,1016.0 L1164.1,1013.8 L1165.2,1011.6 L1166.4,1009.4 L1167.5,1007.2 L1168.7,1004.9 L1169.8,1002.7 L1171.0,1000.5 L1172.1,998.3 L1173.3,996.1 L1174.4,993.8 L1175.6,991.6 L1176.7,989.4 L1177.8,987.1 L1179.0,984.9 L1180.1,982.7 L1181.2,980.4 L1182.4,978.2 L1183.5,976.0 L1184.6,973.7 L1185.7,971.5 L1186.8,969.2 L1187.9,967.0 L1189.0,964.8 L1190.1,962.5 L1191.2,960.3 L1192.3,958.0 L1193.4,955.8 L1194.5,953.5 L1195.5,951.2 L1196.6,949.0 L1197.7,946.7 L1198.7,944.4 L1199.8,942.2 L1200.8,939.9 L1201.9,937.6 L1202.9,935.4 L1203.9,933.1 L1204.9,930.8 L1206.0,928.5 L1207.0,926.2 L1208.0,923.9 L1209.0,921.7 L1209.9,919.4 L1210.9,917.1 L1211.9,914.8 L1212.9,912.5 L1213.8,910.2 L1214.8,907.9 L1215.7,905.5 L1216.7,903.2 L1217.6,900.9 L1218.5,898.6 L1219.4,896.3 L1220.3,893.9 L1221.2,891.6 L1222.1,889.3 L1223.0,886.9 L1223.8,884.6 L1224.7,882.3 L1225.6,879.9 L1226.4,877.6 L1227.2,875.2 L1228.1,872.9 L1228.9,870.5 L1229.7,868.2 L1230.5,865.8 L1231.3,863.4 L1232.1,861.1 L1232.9,858.7 L1233.7,856.3 L1234.5,854.0 L1235.3,851.6 L1236.0,849.2 L1236.8,846.8 L1237.5,844.5 L1238.3,842.1 L1239.0,839.7 L1239.8,837.3 L1240.5,834.9 L1241.2,832.5 L1241.9,830.1 L1242.7,827.7 L1243.4,825.3 L1244.1,822.9 L1244.8,820.5 L1245.5,818.1 L1246.2,815.7 L1246.9,813.3 L1247.5,810.9 L1248.2,808.5 L1248.9,806.1 L1249.6,803.7 L1250.2,801.3 L1250.9,798.9 L1251.6,796.5 L1252.2,794.1 L1252.9,791.6 L1253.5,789.2 L1254.2,786.8 L1254.8,784.4 L1255.4,782.0 L1256.1,779.5 L1256.7,777.1 L1257.3,774.7 L1258.0,772.3 L1258.6,769.9 L1259.2,767.4 L1259.8,765.0 L1260.5,762.6 L1261.1,760.2 L1261.7,757.7 L1262.3,755.3 L1262.9,752.9 L1263.5,750.5 L1264.1,748.0 L1264.7,745.6 L1265.3,743.2 L1265.9,740.7 L1266.5,738.3 L1267.2,735.9 L1267.8,733.5 L1268.4,731.0 L1269.0,728.6 L1269.6,726.2 L1270.1,723.7 L1270.7,721.3 L1271.3,718.9 L1271.9,716.5 L1272.5,714.0 L1273.1,711.6 L1273.7,709.2 L1274.3,706.7 L1274.9,704.3 L1275.5,701.9 L1276.1,699.4 L1276.7,697.0 L1277.2,694.6 L1277.8,692.2 L1278.4,689.7 L1279.0,687.3 L1279.6,684.9 L1280.1,682.4 L1280.7,680.0 L1281.3,677.6 L1281.9,675.1 L1282.4,672.7 L1283.0,670.3 L1283.6,667.8 L1284.1,665.4 L1284.7,663.0 L1285.3,660.5 L1285.8,658.1 L1286.4,655.7 L1287.0,653.2 L1287.5,650.8 L1288.1,648.4 L1288.7,645.9 L1289.2,643.5 L1289.8,641.1 L1290.3,638.6 L1290.9,636.2 L1291.4,633.8 L1292.0,631.3 L1292.5,628.9 L1293.1,626.4 L1293.6,624.0 L1294.2,621.6 L1294.7,619.1 L1295.2,616.7 L1295.8,614.3 L1296.3,611.8 L1296.9,609.4 L1297.4,606.9 L1297.9,604.5 L1298.5,602.1 L1299.0,599.6 L1299.5,597.2 L1300.0,594.7 L1300.6,592.3 L1301.1,589.9 L1301.6,587.4 L1302.1,585.0 L1302.7,582.5 L1303.2,580.1 L1303.7,577.7 L1304.2,575.2 L1304.7,572.8 L1305.2,570.3 L1305.7,567.9 L1306.2,565.4 L1306.7,563.0 L1307.2,560.5 L1307.7,558.1 L1308.2,555.6 L1308.7,553.2 L1309.2,550.8 L1309.7,548.3 L1310.2,545.9 L1310.7,543.4 L1311.2,541.0 L1311.7,538.5 L1312.2,536.1 L1312.7,533.6 L1313.1,531.2 L1313.6,528.7 L1314.1,526.3 L1314.6,523.8 L1315.0,521.4 L1315.5,518.9 L1316.0,516.4 L1316.5,514.0 L1316.9,511.5 L1317.4,509.1 L1317.8,506.6 L1318.3,504.2 L1318.8,501.7 L1319.2,499.3 L1319.7,496.8 L1320.1,494.3 L1320.6,491.9 L1321.0,489.4 L1321.5,487.0 L1321.9,484.5 L1322.4,482.1 L1322.8,479.6 L1323.3,477.1 L1323.7,474.7 L1324.1,472.2 L1324.6,469.8 L1325.0,467.3 L1325.5,464.8 L1325.9,462.4 L1326.4,459.9 L1326.8,457.5 L1327.3,455.0 L1327.7,452.5 L1328.2,450.1 L1328.6,447.6 L1329.1,445.2 L1329.5,442.7 L1330.0,440.2 L1330.4,437.8 L1330.9,435.3 L1331.3,432.9 L1331.8,430.4 L1332.3,428.0 L1332.7,425.5 L1333.2,423.1 L1333.7,420.6 L1334.2,418.2 L1334.7,415.7 L1335.1,413.3 L1335.6,410.8 L1336.1,408.4 L1336.6,405.9 L1337.1,403.5 L1337.7,401.0 L1338.2,398.6 L1338.7,396.1 L1339.2,393.7 L1339.7,391.3 L1340.3,388.8 L1340.8,386.4 L1341.4,384.0 L1341.9,381.5 L1342.5,379.1 L1343.0,376.7 L1343.6,374.2 L1344.2,371.8 L1344.8,369.4 L1345.4,366.9 L1346.0,364.5 L1346.6,362.1 L1347.2,359.7 L1347.8,357.3 L1348.5,354.9 L1349.1,352.4 L1349.7,350.0 L1350.4,347.6 L1351.1,345.2 L1351.7,342.8 L1352.4,340.4 L1353.1,338.0 L1353.8,335.6 L1354.5,333.2 L1355.3,330.8 L1356.0,328.4 L1356.8,326.0 L1357.5,323.6 L1358.4,321.2 L1359.2,318.8 L1360.1,316.4 L1361.1,314.0 L1362.1,311.6 L1363.1,309.2 L1364.2,306.8 L1365.4,304.4 L1366.6,302.0 L1367.9,299.5 L1369.3,297.2 L1370.8,295.1 L1372.3,293.4 L1373.8,292.1 L1375.4,291.4 L1377.0,291.5 L1378.6,292.4 L1380.2,293.9 L1381.7,295.7 L1383.2,297.9 L1384.5,300.1 L1385.6,302.4 L1386.6,304.7 L1387.5,307.1 L1388.3,309.5 L1389.0,311.9 L1389.6,314.3 L1390.2,316.8 L1390.7,319.2 L1391.1,321.7 L1391.5,324.2 L1391.8,326.7 L1392.2,329.2 L1392.6,331.7 L1392.9,334.2 L1393.3,336.7 L1393.6,339.2 L1394.0,341.7 L1394.3,344.2 L1394.7,346.7 L1395.0,349.2 L1395.3,351.7 L1395.7,354.2 L1396.0,356.7 L1396.4,359.2 L1396.7,361.7 L1397.1,364.2 L1397.4,366.7 L1397.7,369.2 L1398.1,371.7 L1398.4,374.2 L1398.8,376.7 L1399.1,379.2 L1399.4,381.7 L1399.8,384.1 L1400.1,386.6 L1400.4,389.1 L1400.8,391.6 L1401.1,394.1 L1401.4,396.6 L1401.7,399.1 L1402.1,401.6 L1402.4,404.1 L1402.7,406.5 L1403.1,409.0 L1403.4,411.5 L1403.7,414.0 L1404.0,416.5 L1404.3,419.0 L1404.7,421.4 L1405.0,423.9 L1405.3,426.4 L1405.6,428.9 L1405.9,431.4 L1406.3,433.9 L1406.6,436.3 L1406.9,438.8 L1407.2,441.3 L1407.5,443.8 L1407.8,446.3 L1408.1,448.7 L1408.4,451.2 L1408.7,453.7 L1409.0,456.2 L1409.4,458.7 L1409.7,461.1 L1410.0,463.6 L1410.3,466.1 L1410.6,468.6 L1410.9,471.1 L1411.2,473.5 L1411.5,476.0 L1411.8,478.5 L1412.1,481.0 L1412.4,483.5 L1412.6,485.9 L1412.9,488.4 L1413.2,490.9 L1413.5,493.4 L1413.8,495.8 L1414.1,498.3 L1414.4,500.8 L1414.7,503.3 L1415.0,505.7 L1415.2,508.2 L1415.5,510.7 L1415.8,513.2 L1416.1,515.7 L1416.4,518.1 L1416.6,520.6 L1416.9,523.1 L1417.2,525.6 L1417.5,528.0 L1417.7,530.5 L1418.0,533.0 L1418.3,535.5 L1418.6,538.0 L1418.8,540.4 L1419.1,542.9 L1419.4,545.4 L1419.6,547.9 L1419.9,550.3 L1420.1,552.8 L1420.4,555.3 L1420.7,557.8 L1420.9,560.3 L1421.2,562.7 L1421.4,565.2 L1421.7,567.7 L1421.9,570.2 L1422.2,572.7 L1422.4,575.1 L1422.7,577.6 L1422.9,580.1 L1423.2,582.6 L1423.4,585.1 L1423.7,587.5 L1423.9,590.0 L1424.2,592.5 L1424.4,595.0 L1424.7,597.5 L1424.9,600.0 L1425.1,602.4 L1425.4,604.9 L1425.6,607.4 L1425.8,609.9 L1426.1,612.4 L1426.3,614.9 L1426.5,617.4 L1426.7,619.8 L1427.0,622.3 L1427.2,624.8 L1427.4,627.3 L1427.7,629.8 L1427.9,632.3 L1428.1,634.8 L1428.3,637.3 L1428.5,639.7 L1428.8,642.2 L1429.0,644.7 L1429.2,647.2 L1429.4,649.7 L1429.6,652.2 L1429.9,654.7 L1430.1,657.2 L1430.3,659.7 L1430.5,662.2 L1430.7,664.6 L1430.9,667.1 L1431.1,669.6 L1431.4,672.1 L1431.6,674.6 L1431.8,677.1 L1432.0,679.6 L1432.2,682.1 L1432.4,684.6 L1432.6,687.1 L1432.8,689.6 L1433.1,692.1 L1433.3,694.5 L1433.5,697.0 L1433.7,699.5 L1433.9,702.0 L1434.1,704.5 L1434.3,707.0 L1434.5,709.5 L1434.8,712.0 L1435.0,714.5 L1435.2,717.0 L1435.4,719.5 L1435.6,722.0 L1435.8,724.5 L1436.0,727.0 L1436.2,729.4 L1436.5,731.9 L1436.7,734.4 L1436.9,736.9 L1437.1,739.4 L1437.3,741.9 L1437.5,744.4 L1437.8,746.9 L1438.0,749.4 L1438.2,751.9 L1438.4,754.4 L1438.6,756.9 L1438.9,759.4 L1439.1,761.9 L1439.3,764.3 L1439.5,766.8 L1439.8,769.3 L1440.0,771.8 L1440.2,774.3 L1440.4,776.8 L1440.7,779.3 L1440.9,781.8 L1441.1,784.3 L1441.4,786.8 L1441.6,789.3 L1441.8,791.7 L1442.1,794.2 L1442.3,796.7 L1442.6,799.2 L1442.8,801.7 L1443.0,804.2 L1443.3,806.7 L1443.5,809.2 L1443.8,811.7 L1444.0,814.1 L1444.3,816.6 L1444.5,819.1 L1444.8,821.6 L1445.0,824.1 L1445.3,826.6 L1445.5,829.1 L1445.8,831.6 L1446.1,834.0 L1446.3,836.5 L1446.6,839.0 L1446.8,841.5 L1447.1,844.0 L1447.4,846.5 L1447.6,848.9 L1447.9,851.4 L1448.2,853.9 L1448.5,856.4 L1448.7,858.9 L1449.0,861.4 L1449.3,863.8 L1449.6,866.3 L1449.8,868.8 L1450.1,871.3 L1450.4,873.8 L1450.7,876.3 L1451.0,878.7 L1451.3,881.2 L1451.5,883.7 L1451.8,886.2 L1452.1,888.7 L1452.4,891.1 L1452.7,893.6 L1453.0,896.1 L1453.3,898.6 L1453.6,901.1 L1453.9,903.5 L1454.2,906.0 L1454.5,908.5 L1454.8,911.0 L1455.1,913.5 L1455.4,915.9 L1455.7,918.4 L1456.0,920.9 L1456.3,923.4 L1456.7,925.8 L1457.0,928.3 L1457.3,930.8 L1457.6,933.3 L1457.9,935.7 L1458.2,938.2 L1458.6,940.7 L1458.9,943.2 L1459.2,945.7 L1459.5,948.1 L1459.9,950.6 L1460.2,953.1 L1460.5,955.5 L1460.8,958.0 L1461.2,960.5 L1461.5,963.0 L1461.8,965.4 L1462.2,967.9 L1462.5,970.4 L1462.9,972.9 L1463.2,975.3 L1463.5,977.8 L1463.9,980.3 L1464.2,982.7 L1464.6,985.2 L1464.9,987.7 L1465.3,990.2 L1465.6,992.6 L1466.0,995.1 L1466.3,997.6 L1466.7,1000.0 L1467.0,1002.5 L1467.4,1005.0 L1467.8,1007.4 L1468.1,1009.9 L1468.5,1012.4 L1468.8,1014.8 L1469.2,1017.3 L1469.6,1019.8 L1470.0,1022.2 L1470.4,1024.7 L1470.8,1027.2 L1471.2,1029.6 L1471.6,1032.1 L1472.1,1034.5 L1472.6,1037.0 L1473.1,1039.4 L1473.6,1041.9 L1474.2,1044.3 L1474.8,1046.7 L1475.4,1049.2 L1476.1,1051.6 L1476.8,1054.0 L1477.6,1056.4 L1478.3,1058.8 L1479.2,1061.2 L1480.1,1063.6 L1481.0,1066.0 L1482.0,1068.4 L1483.1,1070.8 L1484.2,1073.1 L1485.4,1075.5 L1486.6,1077.8 L1487.9,1080.2 L1489.3,1082.5 L1490.7,1084.7 L1492.3,1086.8 L1493.9,1088.5 L1495.5,1089.8 L1497.2,1090.7 L1499.1,1090.9 L1500.9,1090.5 L1502.8,1089.5 L1504.7,1088.1 L1506.6,1086.3 L1508.5,1084.3 L1510.2,1082.0 L1511.9,1079.8 L1513.4,1077.5 L1514.8,1075.2 L1516.1,1072.8 L1517.3,1070.5 L1518.4,1068.2 L1519.4,1065.8 L1520.4,1063.5 L1521.3,1061.2 L1522.1,1058.8 L1522.9,1056.4 L1523.6,1054.1 L1524.3,1051.7 L1525.0,1049.3 L1525.7,1046.9 L1526.3,1044.5 L1527.0,1042.2 L1527.6,1039.8 L1528.3,1037.4 L1528.9,1035.0 L1529.6,1032.6 L1530.2,1030.1 L1530.8,1027.7 L1531.4,1025.3 L1532.0,1022.9 L1532.6,1020.5 L1533.2,1018.1 L1533.9,1015.6 L1534.5,1013.2 L1535.1,1010.8 L1535.7,1008.4 L1536.3,1006.0 L1536.9,1003.5 L1537.5,1001.1 L1538.1,998.7 L1538.7,996.3 L1539.4,993.8 L1540.0,991.4 L1540.6,989.0 L1541.3,986.6 L1541.9,984.2 L1542.6,981.7 L1543.2,979.3 L1543.9,976.9 L1544.6,974.5 L1545.2,972.1 L1545.9,969.7 L1546.6,967.3 L1547.4,964.9 L1548.1,962.5 L1548.8,960.1 L1549.6,957.8 L1550.4,955.4 L1551.1,953.0 L1551.9,950.6 L1552.7,948.3 L1553.6,945.9 L1554.4,943.6 L1555.2,941.2 L1556.1,938.9 L1556.9,936.5 L1557.8,934.2 L1558.7,931.9 L1559.6,929.5 L1560.4,927.2 L1561.3,924.9 L1562.2,922.5 L1563.2,920.2 L1564.1,917.9 L1565.0,915.6 L1565.9,913.2 L1566.8,910.9 L1567.8,908.6 L1568.7,906.3 L1569.7,904.0 L1570.6,901.7 L1571.5,899.4 L1572.5,897.1 L1573.4,894.8 L1574.4,892.4 L1575.3,890.1 L1576.3,887.8 L1577.2,885.5 L1578.2,883.2 L1579.1,880.9 L1580.0,878.6 L1581.0,876.3 L1581.9,874.0 L1582.8,871.7 L1583.8,869.4 L1584.7,867.1 L1585.6,864.7 L1586.5,862.4 L1587.5,860.1 L1588.5,857.8 L1589.6,855.5 L1590.8,853.2 L1592.0,851.0 L1593.4,848.7 L1594.8,846.4 L1596.4,844.2 L1598.1,842.0 L1600.0,839.9 L1601.9,838.1 L1603.9,836.5 L1606.0,835.4 L1608.1,834.8 L1610.2,834.8 L1612.2,835.3 L1614.3,836.4 L1616.3,837.8 L1618.2,839.4 L1620.1,841.2 L1621.8,843.0 L1623.5,844.9 L1625.1,846.8 L1626.6,848.7 L1628.0,850.7 L1629.3,852.8 L1630.6,854.9 L1631.8,857.0 L1632.9,859.2 L1634.0,861.4 L1635.0,863.6 L1635.9,865.9 L1636.8,868.2 L1637.7,870.5 L1638.5,872.9 L1639.2,875.3 L1639.9,877.7 L1640.6,880.1 L1641.2,882.5 L1641.8,885.0 L1642.4,887.5 L1642.9,890.0 L1643.4,892.5 L1643.9,895.0 L1644.4,897.5 L1644.9,900.0 L1645.3,902.6 L1645.8,905.1 L1646.2,907.7 L1646.6,910.2 L1647.1,912.7 L1647.5,915.3 L1648.0,917.8 L1648.4,920.3 L1648.9,922.8 L1649.4,925.3 L1649.9,927.8 L1650.4,930.3 L1650.9,932.8 L1651.4,935.3 L1651.9,937.7 L1652.4,940.2 L1653.0,942.7 L1653.5,945.1 L1654.0,947.6 L1654.6,950.0 L1655.2,952.5 L1655.7,954.9 L1656.3,957.3 L1656.9,959.8 L1657.4,962.2 L1658.0,964.6 L1658.6,967.1 L1659.2,969.5 L1659.8,971.9 L1660.4,974.3 L1661.0,976.7 L1661.6,979.1 L1662.2,981.5 L1662.8,983.9 L1663.4,986.4 L1664.0,988.8 L1664.6,991.2 L1665.2,993.6 L1665.8,996.0 L1666.4,998.4 L1667.0,1000.8 L1667.6,1003.2 L1668.2,1005.6 L1668.8,1008.0 L1669.4,1010.4 L1670.0,1012.8 L1670.6,1015.2 L1671.2,1017.6 L1671.8,1020.0 L1672.4,1022.4 L1672.9,1024.8 L1673.5,1027.3 L1674.1,1029.7 L1674.7,1032.1 L1675.2,1034.5 L1675.8,1036.9 L1676.3,1039.4 L1676.9,1041.8 L1677.4,1044.2 L1678.0,1046.7 L1678.5,1049.1 L1679.0,1051.6 L1679.5,1054.0 L1680.0,1056.5 L1680.6,1058.9 L1681.1,1061.4 L1681.6,1063.9 L1682.1,1066.3 L1682.6,1068.8 L1683.1,1071.3 L1683.6,1073.7 L1684.1,1076.2 L1684.6,1078.7 L1685.1,1081.1 L1685.6,1083.6 L1686.1,1086.1 L1686.6,1088.5 L1687.1,1091.0 L1687.6,1093.5 L1688.2,1095.9 L1688.7,1098.4 L1689.2,1100.9 L1689.8,1103.3 L1690.3,1105.8 L1690.9,1108.2 L1691.4,1110.7 L1692.0,1113.1 L1692.6,1115.5 L1693.2,1118.0 L1693.8,1120.4 L1694.4,1122.8 L1695.0,1125.2 L1695.7,1127.7 L1696.3,1130.1 L1697.0,1132.5 L1697.6,1134.9 L1698.3,1137.3 L1699.0,1139.6 L1699.8,1142.0 L1700.5,1144.4 L1701.2,1146.7 L1702.0,1149.1 L1702.8,1151.4 L1703.6,1153.8 L1704.4,1156.1 L1705.3,1158.4 L1706.2,1160.7 L1707.2,1163.0 L1708.2,1165.3 L1709.2,1167.5 L1710.3,1169.8 L1711.5,1172.0 L1712.7,1174.2 L1714.0,1176.4 L1715.4,1178.5 L1716.9,1180.7 L1718.4,1182.8 L1720.1,1184.9 L1721.8,1186.8 L1723.7,1188.6 L1725.6,1190.2 L1727.7,1191.4 L1729.9,1192.3 L1732.2,1192.8 L1734.6,1193.0 L1737.0,1192.9 L1739.4,1192.6 L1741.8,1192.0 L1744.1,1191.2 L1746.4,1190.2 L1748.6,1189.0 L1750.6,1187.7 L1752.6,1186.2 L1754.5,1184.6 L1756.3,1182.8 L1758.1,1181.0 L1759.7,1179.1 L1761.3,1177.1 L1762.9,1175.1 L1764.4,1172.9 L1765.8,1170.8 L1767.2,1168.6 L1768.5,1166.5 L1769.9,1164.3 L1771.1,1162.1 L1772.4,1159.9 L1773.6,1157.6 L1774.7,1155.4 L1775.9,1153.2 L1777.0,1150.9 L1778.1,1148.7 L1779.2,1146.4 L1780.2,1144.2 L1781.2,1141.9 L1782.2,1139.6 L1783.2,1137.3 L1784.2,1135.0 L1785.1,1132.7 L1786.0,1130.4 L1787.0,1128.1 L1787.9,1125.8 L1788.8,1123.5 L1789.6,1121.2 L1790.5,1118.9 L1791.4,1116.6 L1792.2,1114.2 L1793.1,1111.9 L1793.9,1109.6 L1794.8,1107.2 L1795.6,1104.9 L1796.4,1102.5 L1797.2,1100.2 L1798.0,1097.8 L1798.8,1095.5 L1799.6,1093.1 L1800.4,1090.8 L1801.1,1088.4 L1801.9,1086.0 L1802.6,1083.7 L1803.4,1081.3 L1804.1,1078.9 L1804.8,1076.5 L1805.6,1074.1 L1806.3,1071.8 L1807.0,1069.4 L1807.7,1067.0 L1808.4,1064.6 L1809.0,1062.2 L1809.7,1059.8 L1810.4,1057.4 L1811.0,1055.0 L1811.7,1052.6 L1812.4,1050.2 L1813.0,1047.8 L1813.6,1045.3 L1814.3,1042.9 L1814.9,1040.5 L1815.5,1038.1 L1816.1,1035.7 L1816.7,1033.2 L1817.3,1030.8 L1817.9,1028.4 L1818.5,1025.9 L1819.1,1023.5 L1819.7,1021.1 L1820.2,1018.6 L1820.8,1016.2 L1821.3,1013.8 L1821.9,1011.3 L1822.4,1008.9 L1823.0,1006.4 L1823.5,1004.0 L1824.1,1001.5 L1824.6,999.1 L1825.1,996.6 L1825.6,994.2 L1826.1,991.7 L1826.7,989.3 L1827.2,986.8 L1827.7,984.4 L1828.2,981.9 L1828.7,979.5 L1829.1,977.0 L1829.6,974.5 L1830.1,972.1 L1830.6,969.6 L1831.1,967.1 L1831.5,964.7 L1832.0,962.2 L1832.5,959.8 L1832.9,957.3 L1833.4,954.8 L1833.8,952.4 L1834.3,949.9 L1834.7,947.4 L1835.2,945.0 L1835.6,942.5 L1836.0,940.0 L1836.5,937.6 L1836.9,935.1 L1837.3,932.6 L1837.8,930.2 L1838.2,927.7 L1838.6,925.2 L1839.0,922.7 L1839.4,920.3 L1839.9,917.8 L1840.3,915.3 L1840.7,912.9 L1841.1,910.4 L1841.5,907.9 L1841.9,905.5 L1842.3,903.0 L1842.7,900.5 L1843.1,898.1 L1843.5,895.6 L1843.9,893.1 L1844.2,890.6 L1844.6,888.2 L1845.0,885.7 L1845.4,883.2 L1845.8,880.8 L1846.1,878.3 L1846.5,875.8 L1846.9,873.3 L1847.3,870.9 L1847.6,868.4 L1848.0,865.9 L1848.4,863.5 L1848.7,861.0 L1849.1,858.5 L1849.4,856.0 L1849.8,853.6 L1850.1,851.1 L1850.5,848.6 L1850.8,846.1 L1851.2,843.7 L1851.5,841.2 L1851.9,838.7 L1852.2,836.2 L1852.6,833.8 L1852.9,831.3 L1853.2,828.8 L1853.6,826.3 L1853.9,823.9 L1854.2,821.4 L1854.6,818.9 L1854.9,816.5 L1855.2,814.0 L1855.5,811.5 L1855.9,809.0 L1856.2,806.5 L1856.5,804.1 L1856.8,801.6 L1857.2,799.1 L1857.5,796.6 L1857.8,794.2 L1858.1,791.7 L1858.4,789.2 L1858.7,786.7 L1859.0,784.3 L1859.3,781.8 L1859.6,779.3 L1859.9,776.8 L1860.2,774.4 L1860.5,771.9 L1860.9,769.4 L1861.2,766.9 L1861.4,764.4 L1861.7,762.0 L1862.0,759.5 L1862.3,757.0 L1862.6,754.5 L1862.9,752.1 L1863.2,749.6 L1863.5,747.1 L1863.8,744.6 L1864.1,742.1 L1864.4,739.7 L1864.7,737.2 L1865.0,734.7 L1865.2,732.2 L1865.5,729.7 L1865.8,727.3 L1866.1,724.8 L1866.4,722.3 L1866.7,719.8 L1866.9,717.3 L1867.2,714.9 L1867.5,712.4 L1867.8,709.9 L1868.1,707.4 L1868.3,704.9 L1868.6,702.5 L1868.9,700.0 L1869.2,697.5 L1869.4,695.0 L1869.7,692.5 L1870.0,690.1 L1870.3,687.6 L1870.5,685.1 L1870.8,682.6 L1871.1,680.1 L1871.3,677.6 L1871.6,675.2 L1871.9,672.7 L1872.1,670.2 L1872.4,667.7 L1872.7,665.2 L1873.0,662.7 L1873.2,660.3 L1873.5,657.8 L1873.8,655.3 L1874.0,652.8 L1874.3,650.3 L1874.5,647.8 L1874.8,645.4 L1875.1,642.9 L1875.3,640.4 L1875.6,637.9 L1875.9,635.4 L1876.1,632.9 L1876.4,630.5 L1876.6,628.0 L1876.9,625.5 L1877.2,623.0 L1877.4,620.5 L1877.7,618.0 L1877.9,615.6 L1878.2,613.1 L1878.4,610.6 L1878.7,608.1 L1878.9,605.6 L1879.2,603.1 L1879.5,600.6 L1879.7,598.2 L1880.0,595.7 L1880.2,593.2 L1880.5,590.7 L1880.7,588.2 L1881.0,585.7 L1881.2,583.2 L1881.5,580.8 L1881.7,578.3 L1881.9,575.8 L1882.2,573.3 L1882.4,570.8 L1882.7,568.3 L1882.9,565.8 L1883.2,563.4 L1883.4,560.9 L1883.7,558.4 L1883.9,555.9 L1884.1,553.4 L1884.4,550.9 L1884.6,548.4 L1884.9,545.9 L1885.1,543.5 L1885.4,541.0 L1885.6,538.5 L1885.8,536.0 L1886.1,533.5 L1886.3,531.0 L1886.5,528.5 L1886.8,526.0 L1887.0,523.6 L1887.2,521.1 L1887.5,518.6 L1887.7,516.1 L1887.9,513.6 L1888.2,511.1 L1888.4,508.6 L1888.6,506.1 L1888.9,503.6 L1889.1,501.2 L1889.3,498.7 L1889.6,496.2 L1889.8,493.7 L1890.0,491.2 L1890.2,488.7 L1890.5,486.2 L1890.7,483.7 L1890.9,481.2 L1891.1,478.8 L1891.4,476.3 L1891.6,473.8 L1891.8,471.3 L1892.0,468.8 L1892.3,466.3 L1892.5,463.8 L1892.7,461.3 L1892.9,458.8 L1893.1,456.3 L1893.4,453.9 L1893.6,451.4 L1893.8,448.9 L1894.0,446.4 L1894.2,443.9 L1894.5,441.4 L1894.7,438.9 L1894.9,436.4 L1895.1,433.9 L1895.3,431.4 L1895.5,429.0 L1895.7,426.5 L1895.9,424.0 L1896.2,421.5 L1896.4,419.0 L1896.6,416.5 L1896.8,414.0 L1897.0,411.5 L1897.2,409.0 L1897.4,406.5 L1897.6,404.0 L1897.8,401.6 L1898.0,399.1 L1898.2,396.6 L1898.5,394.1 L1898.7,391.6 L1898.9,389.1 L1899.1,386.6 L1899.3,384.1 L1899.5,381.6 L1899.7,379.1 L1899.9,376.6 L1900.1,374.1 L1900.3,371.7 L1900.5,369.2 L1900.7,366.7 L1900.9,364.2 L1901.1,361.7 L1901.3,359.2 L1901.5,356.7 L1901.7,354.2 L1901.9,351.7 L1902.1,349.2 L1902.2,346.7 L1902.4,344.2 L1902.6,341.8 L1902.8,339.3 L1903.0,336.8 L1903.2,334.3 L1903.4,331.8 L1903.6,329.3 L1903.8,326.8 L1904.0,324.3 L1904.2,321.8 L1904.3,319.3 L1904.5,316.8 L1904.7,314.3 L1904.9,311.8 L1905.1,309.3 L1905.3,306.9 L1905.5,304.4 L1905.7,301.9 L1905.8,299.4 L1906.0,296.9 L1906.2,294.4 L1906.4,291.9 L1906.6,289.4 L1906.7,286.9 L1906.9,284.4 L1907.1,281.9 L1907.3,279.4 L1907.5,276.9 L1907.6,274.4 L1907.8,272.0 L1908.0,269.5 L1908.2,267.0 L1908.3,264.5 L1908.5,262.0 L1908.7,259.5 L1908.9,257.0 L1909.0,254.5 L1909.2,252.0 L1909.4,249.5 L1909.6,247.0 L1909.7,244.5 L1909.9,242.0 L1910.1,239.5 L1910.2,237.0 L1910.4,234.6 L1910.6,232.1 L1910.7,229.6 L1910.9,227.1 L1911.1,224.6 L1911.2,222.1 L1911.4,219.6 L1911.6,217.1 L1911.7,214.6 L1911.9,212.1 L1912.1,209.6 L1912.2,207.1 L1912.4,204.6 L1912.6,202.1 L1912.7,199.6 L1912.9,197.2 L1913.0,194.7 L1913.2,192.2 L1913.4,189.7 L1913.5,187.2 L1913.7,184.7 L1913.8,182.2 L1914.0,179.7 L1914.1,177.2 L1914.3,174.7 L1914.5,172.2 L1914.6,169.7 L1914.8,167.2 L1914.9,164.7 L1915.1,162.2 L1915.2,159.7 L1915.4,157.3 L1915.5,154.8 L1915.7,152.3 L1915.8,149.8 L1916.0,147.3 L1916.1,144.8 L1916.3,142.3 L1916.4,139.8 L1916.6,137.3 L1916.7,134.8 L1916.9,132.3 L1917.0,129.8 L1917.1,127.3 L1917.3,124.8 L1917.4,122.3 L1917.6,119.9 L1917.7,117.4 L1917.9,114.9 L1918.0,112.4 L1918.1,109.9 L1918.3,107.4 L1918.4,104.9 L1918.6,102.4 L1918.7,99.9 L1918.8,97.4 L1919.0,94.9 L1919.1,92.4 L1919.2,89.9 L1919.4,87.4 L1919.5,84.9 L1919.6,82.5 L1919.8,80.0 L1919.9,77.5 L1920.0,75.0 L1920.2,72.5 L1920.3,70.0 L1920.4,67.5 L1920.6,65.0 L1920.7,62.5 L1920.8,60.0" stroke="#ff0000" stroke-width="6.3"/>
<path d="M288.8,1290.3 L291.3,1290.2 L293.8,1290.1 L296.4,1290.0 L298.9,1289.9 L301.4,1289.9 L303.9,1289.8 L306.5,1289.7 L309.0,1289.6 L311.5,1289.5 L314.0,1289.4 L316.5,1289.4 L319.0,1289.3 L321.6,1289.2 L324.1,1289.1 L326.6,1289.0 L329.1,1289.0 L331.6,1288.9 L334.1,1288.8 L336.6,1288.7 L339.2,1288.6 L341.7,1288.6 L344.2,1288.5 L346.7,1288.4 L349.2,1288.3 L351.7,1288.2 L354.2,1288.1 L356.7,1288.1 L359.2,1288.0 L361.7,1287.9 L364.2,1287.8 L366.7,1287.7 L369.2,1287.7 L371.7,1287.6 L374.2,1287.5 L376.7,1287.4 L379.2,1287.3 L381.7,1287.2 L384.2,1287.2 L386.7,1287.1 L389.2,1287.0 L391.7,1286.9 L394.2,1286.8 L396.7,1286.7 L399.2,1286.6 L401.7,1286.6 L404.2,1286.5 L406.7,1286.4 L409.2,1286.3 L411.7,1286.2 L414.2,1286.1 L416.7,1286.0 L419.2,1285.9 L421.7,1285.9 L424.2,1285.8 L426.7,1285.7 L429.1,1285.6 L431.6,1285.5 L434.1,1285.4 L436.6,1285.3 L439.1,1285.2 L441.6,1285.1 L444.1,1285.0 L446.6,1284.9 L449.1,1284.8 L451.6,1284.7 L454.0,1284.6 L456.5,1284.5 L459.0,1284.4 L461.5,1284.3 L464.0,1284.2 L466.5,1284.1 L469.0,1284.0 L471.5,1283.9 L473.9,1283.8 L476.4,1283.7 L478.9,1283.6 L481.4,1283.5 L483.9,1283.4 L486.4,1283.3 L488.9,1283.2 L491.3,1283.1 L493.8,1283.0 L496.3,1282.9 L498.8,1282.7 L501.3,1282.6 L503.8,1282.5 L506.2,1282.4 L508.7,1282.3 L511.2,1282.2 L513.7,1282.0 L516.2,1281.9 L518.7,1281.8 L521.2,1281.7 L523.6,1281.6 L526.1,1281.4 L528.6,1281.3 L531.1,1281.2 L533.6,1281.1 L536.1,1280.9 L538.5,1280.8 L541.0,1280.7 L543.5,1280.5 L546.0,1280.4 L548.5,1280.3 L551.0,1280.1 L553.4,1280.0 L555.9,1279.8 L558.4,1279.7 L560.9,1279.6 L563.4,1279.4 L565.9,1279.3 L568.3,1279.1 L570.8,1279.0 L573.3,1278.8 L575.8,1278.7 L578.3,1278.5 L580.8,1278.4 L583.3,1278.2 L585.7,1278.1 L588.2,1277.9 L590.7,1277.8 L593.2,1277.6 L595.7,1277.4 L598.2,1277.3 L600.7,1277.1 L603.1,1276.9 L605.6,1276.8 L608.1,1276.6 L610.6,1276.4 L613.1,1276.3 L615.6,1276.1 L618.1,1275.9 L620.6,1275.7 L623.0,1275.5 L625.5,1275.4 L628.0,1275.2 L630.5,1275.0 L633.0,1274.8 L635.5,1274.6 L638.0,1274.4 L640.5,1274.2 L643.0,1274.0 L645.5,1273.9 L647.9,1273.7 L650.4,1273.5 L652.9,1273.3 L655.4,1273.0 L657.9,1272.8 L660.4,1272.6 L662.9,1272.4 L665.4,1272.2 L667.9,1272.0 L670.4,1271.8 L672.9,1271.6 L675.4,1271.4 L677.9,1271.1 L680.4,1270.9 L682.9,1270.7 L685.4,1270.5 L687.9,1270.2 L690.4,1270.0 L692.9,1269.8 L695.4,1269.5 L697.9,1269.3 L700.4,1269.1 L702.9,1268.8 L705.4,1268.6 L707.9,1268.3 L710.4,1268.1 L712.9,1267.8 L715.4,1267.6 L717.9,1267.3 L720.4,1267.0 L722.9,1266.8 L725.4,1266.5 L727.9,1266.2 L730.4,1266.0 L733.0,1265.7 L735.5,1265.4 L738.0,1265.1 L740.5,1264.9 L743.0,1264.6 L745.5,1264.3 L748.0,1264.0 L750.5,1263.7 L753.0,1263.4 L755.5,1263.0 L758.0,1262.7 L760.5,1262.4 L763.0,1262.1 L765.5,1261.8 L768.0,1261.4 L770.5,1261.1 L773.0,1260.7 L775.5,1260.4 L778.0,1260.0 L780.5,1259.7 L783.0,1259.3 L785.4,1259.0 L787.9,1258.6 L790.4,1258.2 L792.9,1257.8 L795.4,1257.4 L797.9,1257.0 L800.4,1256.6 L802.8,1256.2 L805.3,1255.8 L807.8,1255.4 L810.3,1254.9 L812.7,1254.5 L815.2,1254.1 L817.7,1253.6 L820.1,1253.2 L822.6,1252.7 L825.1,1252.2 L827.5,1251.7 L830.0,1251.3 L832.4,1250.8 L834.9,1250.3 L837.4,1249.8 L839.8,1249.2 L842.2,1248.7 L844.7,1248.2 L847.1,1247.7 L849.6,1247.1 L852.0,1246.6 L854.4,1246.0 L856.9,1245.4 L859.3,1244.8 L861.7,1244.3 L864.1,1243.7 L866.6,1243.1 L869.0,1242.4 L871.4,1241.8 L873.8,1241.2 L876.2,1240.6 L878.6,1239.9 L881.0,1239.2 L883.4,1238.6 L885.8,1237.9 L888.2,1237.2 L890.6,1236.5 L892.9,1235.8 L895.3,1235.1 L897.7,1234.4 L900.1,1233.6 L902.4,1232.9 L904.8,1232.1 L907.1,1231.4 L909.5,1230.6 L911.8,1229.8 L914.2,1229.0 L916.5,1228.2 L918.9,1227.4 L921.2,1226.5 L923.5,1225.7 L925.8,1224.8 L928.2,1224.0 L930.5,1223.1 L932.8,1222.2 L935.1,1221.3 L937.4,1220.4 L939.7,1219.5 L942.0,1218.6 L944.2,1217.6 L946.5,1216.6 L948.8,1215.7 L951.1,1214.7 L953.3,1213.7 L955.6,1212.7 L957.9,1211.7 L960.1,1210.6 L962.3,1209.6 L964.6,1208.5 L966.8,1207.5 L969.0,1206.4 L971.3,1205.3 L973.5,1204.2 L975.7,1203.1 L977.9,1201.9 L980.1,1200.8 L982.3,1199.6 L984.5,1198.4 L986.7,1197.2 L988.8,1196.0 L991.0,1194.8 L993.2,1193.6 L995.3,1192.3 L997.5,1191.1 L999.6,1189.8 L1001.8,1188.5 L1003.9,1187.2 L1006.0,1185.9 L1008.1,1184.5 L1010.2,1183.2 L1012.3,1181.8 L1014.4,1180.5 L1016.5,1179.1 L1018.6,1177.7 L1020.7,1176.2 L1022.7,1174.8 L1024.8,1173.4 L1026.9,1171.9 L1028.9,1170.4 L1030.9,1169.0 L1033.0,1167.5 L1035.0,1166.0 L1037.0,1164.4 L1039.0,1162.9 L1041.0,1161.4 L1043.0,1159.8 L1044.9,1158.2 L1046.9,1156.6 L1048.8,1155.0 L1050.8,1153.4 L1052.7,1151.8 L1054.6,1150.2 L1056.6,1148.5 L1058.5,1146.9 L1060.4,1145.2 L1062.2,1143.5 L1064.1,1141.8 L1066.0,1140.1 L1067.8,1138.4 L1069.7,1136.7 L1071.5,1134.9 L1073.3,1133.2 L1075.1,1131.4 L1076.9,1129.6 L1078.7,1127.8 L1080.5,1126.0 L1082.2,1124.2 L1084.0,1122.4 L1085.7,1120.6 L1087.4,1118.7 L1089.1,1116.9 L1090.8,1115.0 L1092.5,1113.2 L1094.2,1111.3 L1095.8,1109.4 L1097.5,1107.5 L1099.1,1105.6 L1100.7,1103.7 L1102.3,1101.7 L1103.9,1099.8 L1105.5,1097.8 L1107.1,1095.9 L1108.6,1093.9 L1110.1,1091.9 L1111.6,1089.9 L1113.2,1087.9 L1114.6,1085.9 L1116.1,1083.9 L1117.6,1081.9 L1119.0,1079.9 L1120.4,1077.8 L1121.9,1075.8 L1123.3,1073.7 L1124.6,1071.6 L1126.0,1069.6 L1127.4,1067.5 L1128.7,1065.4 L1130.0,1063.3 L1131.3,1061.2 L1132.6,1059.0 L1133.9,1056.9 L1135.1,1054.8 L1136.4,1052.6 L1137.6,1050.5 L1138.9,1048.4 L1140.1,1046.2 L1141.3,1044.0 L1142.5,1041.9 L1143.7,1039.7 L1144.9,1037.5 L1146.1,1035.3 L1147.3,1033.2 L1148.4,1031.0 L1149.6,1028.8 L1150.8,1026.6 L1152.0,1024.4 L1153.1,1022.2 L1154.3,1020.0 L1155.5,1017.8 L1156.6,1015.6 L1157.8,1013.4 L1159.0,1011.2 L1160.1,1009.0 L1161.3,1006.7 L1162.4,1004.5 L1163.6,1002.3 L1164.7,1000.1 L1165.9,997.9 L1167.1,995.6 L1168.2,993.4 L1169.3,991.2 L1170.5,989.0 L1171.6,986.7 L1172.8,984.5 L1173.9,982.3 L1175.0,980.0 L1176.2,977.8 L1177.3,975.5 L1178.4,973.3 L1179.5,971.0 L1180.6,968.8 L1181.7,966.5 L1182.8,964.3 L1183.9,962.0 L1185.0,959.7 L1186.1,957.5 L1187.1,955.2 L1188.2,952.9 L1189.3,950.7 L1190.3,948.4 L1191.4,946.1 L1192.4,943.8 L1193.5,941.5 L1194.5,939.2 L1195.5,937.0 L1196.5,934.7 L1197.5,932.4 L1198.5,930.1 L1199.5,927.8 L1200.5,925.5 L1201.5,923.2 L1202.5,920.9 L1203.4,918.5 L1204.4,916.2 L1205.3,913.9 L1206.2,911.6 L1207.2,909.3 L1208.1,906.9 L1209.0,904.6 L1209.8,902.3 L1210.7,899.9 L1211.6,897.6 L1212.5,895.3 L1213.3,892.9 L1214.1,890.6 L1215.0,888.2 L1215.8,885.9 L1216.6,883.5 L1217.4,881.2 L1218.2,878.8 L1219.0,876.4 L1219.8,874.1 L1220.5,871.7 L1221.3,869.3 L1222.1,867.0 L1222.8,864.6 L1223.6,862.2 L1224.3,859.8 L1225.0,857.5 L1225.8,855.1 L1226.5,852.7 L1227.2,850.3 L1227.9,847.9 L1228.6,845.5 L1229.3,843.1 L1230.0,840.8 L1230.7,838.4 L1231.4,836.0 L1232.1,833.6 L1232.8,831.2 L1233.5,828.8 L1234.2,826.4 L1234.9,824.0 L1235.6,821.6 L1236.2,819.2 L1236.9,816.8 L1237.6,814.4 L1238.3,812.0 L1239.0,809.6 L1239.7,807.2 L1240.3,804.7 L1241.0,802.3 L1241.7,799.9 L1242.4,797.5 L1243.0,795.1 L1243.7,792.7 L1244.4,790.3 L1245.1,787.9 L1245.7,785.5 L1246.4,783.1 L1247.1,780.6 L1247.7,778.2 L1248.4,775.8 L1249.1,773.4 L1249.7,771.0 L1250.4,768.6 L1251.1,766.1 L1251.7,763.7 L1252.4,761.3 L1253.0,758.9 L1253.7,756.5 L1254.4,754.0 L1255.0,751.6 L1255.7,749.2 L1256.3,746.8 L1256.9,744.3 L1257.6,741.9 L1258.2,739.5 L1258.9,737.1 L1259.5,734.7 L1260.2,732.2 L1260.8,729.8 L1261.4,727.4 L1262.1,725.0 L1262.7,722.5 L1263.3,720.1 L1263.9,717.7 L1264.6,715.2 L1265.2,712.8 L1265.8,710.4 L1266.4,708.0 L1267.0,705.5 L1267.6,703.1 L1268.2,700.7 L1268.9,698.2 L1269.5,695.8 L1270.1,693.4 L1270.7,690.9 L1271.3,688.5 L1271.8,686.1 L1272.4,683.7 L1273.0,681.2 L1273.6,678.8 L1274.2,676.4 L1274.8,673.9 L1275.4,671.5 L1275.9,669.1 L1276.5,666.6 L1277.1,664.2 L1277.6,661.8 L1278.2,659.3 L1278.8,656.9 L1279.3,654.5 L1279.9,652.0 L1280.4,649.6 L1281.0,647.2 L1281.5,644.7 L1282.1,642.3 L1282.6,639.9 L1283.1,637.4 L1283.7,635.0 L1284.2,632.6 L1284.7,630.1 L1285.3,627.7 L1285.8,625.3 L1286.3,622.8 L1286.8,620.4 L1287.4,618.0 L1287.9,615.5 L1288.4,613.1 L1288.9,610.7 L1289.4,608.2 L1289.9,605.8 L1290.4,603.4 L1290.9,600.9 L1291.4,598.5 L1291.9,596.1 L1292.4,593.6 L1292.9,591.2 L1293.4,588.7 L1293.9,586.3 L1294.4,583.9 L1294.9,581.4 L1295.4,579.0 L1295.9,576.5 L1296.4,574.1 L1296.8,571.7 L1297.3,569.2 L1297.8,566.8 L1298.3,564.3 L1298.8,561.9 L1299.2,559.5 L1299.7,557.0 L1300.2,554.6 L1300.7,552.1 L1301.1,549.7 L1301.6,547.2 L1302.1,544.8 L1302.6,542.3 L1303.0,539.9 L1303.5,537.4 L1304.0,535.0 L1304.4,532.5 L1304.9,530.1 L1305.4,527.6 L1305.8,525.2 L1306.3,522.7 L1306.8,520.3 L1307.2,517.8 L1307.7,515.4 L1308.2,512.9 L1308.6,510.5 L1309.1,508.0 L1309.6,505.5 L1310.0,503.1 L1310.5,500.6 L1311.0,498.2 L1311.4,495.7 L1311.9,493.2 L1312.3,490.8 L1312.8,488.3 L1313.3,485.8 L1313.7,483.4 L1314.2,480.9 L1314.7,478.4 L1315.1,476.0 L1315.6,473.5 L1316.1,471.0 L1316.5,468.6 L1317.0,466.1 L1317.5,463.6 L1318.0,461.2 L1318.4,458.7 L1318.9,456.2 L1319.4,453.7 L1319.8,451.2 L1320.3,448.8 L1320.8,446.3 L1321.3,443.8 L1321.7,441.3 L1322.2,438.8 L1322.7,436.4 L1323.2,433.9 L1323.7,431.4 L1324.1,428.9 L1324.6,426.4 L1325.1,423.9 L1325.6,421.4 L1326.1,418.9 L1326.6,416.4 L1327.1,413.9 L1327.6,411.5 L1328.1,409.0 L1328.6,406.5 L1329.1,404.0 L1329.6,401.5 L1330.1,399.0 L1330.6,396.5 L1331.1,394.0 L1331.7,391.6 L1332.2,389.1 L1332.7,386.6 L1333.3,384.2 L1333.8,381.7 L1334.4,379.3 L1334.9,376.8 L1335.5,374.4 L1336.1,372.0 L1336.7,369.6 L1337.3,367.2 L1337.9,364.8 L1338.5,362.4 L1339.1,360.0 L1339.7,357.6 L1340.4,355.3 L1341.0,353.0 L1341.7,350.6 L1342.4,348.3 L1343.0,346.0 L1343.7,343.8 L1344.4,341.5 L1345.2,339.2 L1345.9,337.0 L1346.6,334.8 L1347.4,332.6 L1348.2,330.4 L1349.0,328.2 L1349.8,326.0 L1350.6,323.8 L1351.4,321.5 L1352.3,319.2 L1353.1,316.9 L1354.0,314.5 L1354.9,312.0 L1355.8,309.5 L1356.8,306.9 L1357.7,304.3 L1358.7,301.5 L1359.7,298.6 L1360.7,295.6 L1361.7,292.6 L1362.8,289.7 L1363.8,286.8 L1364.9,284.1 L1366.1,281.5 L1367.2,279.2 L1368.4,277.2 L1369.6,275.5 L1370.9,274.3 L1372.2,273.6 L1373.5,273.3 L1374.9,273.7 L1376.3,274.5 L1377.7,275.8 L1379.1,277.6 L1380.5,279.6 L1381.9,282.0 L1383.2,284.5 L1384.6,287.3 L1385.8,290.1 L1387.1,293.1 L1388.2,296.0 L1389.3,298.8 L1390.3,301.6 L1391.2,304.3 L1392.0,307.0 L1392.8,309.6 L1393.5,312.1 L1394.1,314.6 L1394.8,317.0 L1395.3,319.4 L1395.9,321.8 L1396.4,324.2 L1396.9,326.6 L1397.4,328.9 L1397.8,331.3 L1398.3,333.6 L1398.7,336.0 L1399.2,338.4 L1399.6,340.7 L1400.1,343.1 L1400.5,345.5 L1400.9,347.9 L1401.3,350.3 L1401.8,352.6 L1402.2,355.0 L1402.6,357.4 L1403.0,359.9 L1403.4,362.3 L1403.8,364.7 L1404.2,367.1 L1404.6,369.5 L1405.0,372.0 L1405.3,374.4 L1405.7,376.8 L1406.1,379.3 L1406.5,381.7 L1406.8,384.1 L1407.2,386.6 L1407.5,389.0 L1407.9,391.5 L1408.2,394.0 L1408.6,396.4 L1408.9,398.9 L1409.3,401.4 L1409.6,403.8 L1409.9,406.3 L1410.3,408.8 L1410.6,411.2 L1410.9,413.7 L1411.2,416.2 L1411.6,418.7 L1411.9,421.2 L1412.2,423.7 L1412.5,426.2 L1412.8,428.6 L1413.1,431.1 L1413.4,433.6 L1413.7,436.1 L1414.0,438.6 L1414.3,441.1 L1414.6,443.6 L1414.9,446.1 L1415.2,448.6 L1415.4,451.1 L1415.7,453.6 L1416.0,456.1 L1416.3,458.6 L1416.6,461.2 L1416.8,463.7 L1417.1,466.2 L1417.4,468.7 L1417.6,471.2 L1417.9,473.7 L1418.2,476.2 L1418.4,478.7 L1418.7,481.2 L1418.9,483.7 L1419.2,486.2 L1419.4,488.7 L1419.7,491.2 L1420.0,493.7 L1420.2,496.2 L1420.5,498.7 L1420.7,501.3 L1420.9,503.8 L1421.2,506.3 L1421.4,508.8 L1421.7,511.3 L1421.9,513.8 L1422.2,516.3 L1422.4,518.8 L1422.6,521.3 L1422.9,523.8 L1423.1,526.3 L1423.4,528.8 L1423.6,531.3 L1423.8,533.7 L1424.1,536.2 L1424.3,538.7 L1424.5,541.2 L1424.7,543.7 L1425.0,546.2 L1425.2,548.7 L1425.4,551.2 L1425.7,553.7 L1425.9,556.2 L1426.1,558.7 L1426.3,561.2 L1426.6,563.7 L1426.8,566.2 L1427.0,568.7 L1427.2,571.1 L1427.4,573.6 L1427.7,576.1 L1427.9,578.6 L1428.1,581.1 L1428.3,583.6 L1428.6,586.1 L1428.8,588.6 L1429.0,591.1 L1429.2,593.5 L1429.4,596.0 L1429.6,598.5 L1429.9,601.0 L1430.1,603.5 L1430.3,606.0 L1430.5,608.5 L1430.7,610.9 L1431.0,613.4 L1431.2,615.9 L1431.4,618.4 L1431.6,620.9 L1431.8,623.4 L1432.0,625.9 L1432.3,628.3 L1432.5,630.8 L1432.7,633.3 L1432.9,635.8 L1433.1,638.3 L1433.3,640.8 L1433.6,643.2 L1433.8,645.7 L1434.0,648.2 L1434.2,650.7 L1434.4,653.2 L1434.7,655.6 L1434.9,658.1 L1435.1,660.6 L1435.3,663.1 L1435.6,665.6 L1435.8,668.1 L1436.0,670.5 L1436.2,673.0 L1436.4,675.5 L1436.7,678.0 L1436.9,680.5 L1437.1,682.9 L1437.4,685.4 L1437.6,687.9 L1437.8,690.4 L1438.0,692.9 L1438.3,695.3 L1438.5,697.8 L1438.7,700.3 L1439.0,702.8 L1439.2,705.3 L1439.4,707.7 L1439.7,710.2 L1439.9,712.7 L1440.1,715.2 L1440.4,717.7 L1440.6,720.1 L1440.9,722.6 L1441.1,725.1 L1441.4,727.6 L1441.6,730.1 L1441.8,732.5 L1442.1,735.0 L1442.3,737.5 L1442.6,740.0 L1442.8,742.5 L1443.1,744.9 L1443.4,747.4 L1443.6,749.9 L1443.9,752.4 L1444.1,754.9 L1444.4,757.3 L1444.6,759.8 L1444.9,762.3 L1445.2,764.8 L1445.4,767.3 L1445.7,769.7 L1446.0,772.2 L1446.3,774.7 L1446.5,777.2 L1446.8,779.7 L1447.1,782.2 L1447.4,784.6 L1447.6,787.1 L1447.9,789.6 L1448.2,792.1 L1448.5,794.6 L1448.8,797.1 L1449.1,799.5 L1449.4,802.0 L1449.7,804.5 L1450.0,807.0 L1450.2,809.5 L1450.6,812.0 L1450.9,814.5 L1451.2,816.9 L1451.5,819.4 L1451.8,821.9 L1452.1,824.4 L1452.4,826.9 L1452.7,829.4 L1453.0,831.8 L1453.4,834.3 L1453.7,836.8 L1454.0,839.3 L1454.4,841.8 L1454.7,844.3 L1455.0,846.7 L1455.4,849.2 L1455.7,851.7 L1456.1,854.2 L1456.4,856.7 L1456.8,859.2 L1457.1,861.6 L1457.5,864.1 L1457.8,866.6 L1458.2,869.1 L1458.6,871.6 L1458.9,874.0 L1459.3,876.5 L1459.7,879.0 L1460.1,881.5 L1460.5,883.9 L1460.9,886.4 L1461.3,888.9 L1461.7,891.4 L1462.1,893.8 L1462.5,896.3 L1462.9,898.8 L1463.3,901.2 L1463.7,903.7 L1464.2,906.2 L1464.6,908.6 L1465.0,911.1 L1465.5,913.6 L1465.9,916.0 L1466.3,918.5 L1466.8,920.9 L1467.2,923.4 L1467.7,925.9 L1468.2,928.3 L1468.7,930.8 L1469.2,933.2 L1469.7,935.7 L1470.2,938.1 L1470.8,940.5 L1471.3,943.0 L1471.9,945.4 L1472.6,947.8 L1473.2,950.2 L1473.9,952.6 L1474.6,955.1 L1475.4,957.4 L1476.2,959.8 L1477.1,962.2 L1478.0,964.6 L1478.9,966.9 L1479.9,969.3 L1481.0,971.6 L1482.1,973.9 L1483.2,976.3 L1484.5,978.4 L1485.8,980.2 L1487.4,981.4 L1489.1,981.6 L1490.9,981.0 L1492.7,979.7 L1494.3,977.9 L1495.6,975.8 L1496.6,973.5 L1497.6,971.1 L1498.4,968.6 L1499.2,966.1 L1499.9,963.6 L1500.7,961.1 L1501.4,958.6 L1502.1,956.1 L1502.8,953.6 L1503.5,951.1 L1504.1,948.6 L1504.7,946.2 L1505.3,943.7 L1505.9,941.2 L1506.5,938.7 L1507.0,936.3 L1507.6,933.8 L1508.1,931.4 L1508.6,928.9 L1509.1,926.5 L1509.6,924.0 L1510.1,921.6 L1510.6,919.1 L1511.0,916.7 L1511.5,914.2 L1511.9,911.8 L1512.4,909.4 L1512.8,906.9 L1513.3,904.5 L1513.7,902.1 L1514.1,899.6 L1514.5,897.2 L1515.0,894.8 L1515.4,892.3 L1515.8,889.9 L1516.2,887.5 L1516.7,885.0 L1517.1,882.6 L1517.5,880.2 L1518.0,877.7 L1518.4,875.3 L1518.9,872.9 L1519.3,870.4 L1519.8,868.0 L1520.3,865.6 L1520.8,863.1 L1521.2,860.7 L1521.7,858.2 L1522.2,855.8 L1522.7,853.3 L1523.2,850.9 L1523.7,848.4 L1524.2,846.0 L1524.8,843.5 L1525.3,841.1 L1525.8,838.6 L1526.3,836.2 L1526.8,833.7 L1527.3,831.3 L1527.8,828.8 L1528.3,826.4 L1528.8,823.9 L1529.3,821.5 L1529.8,819.0 L1530.3,816.5 L1530.7,814.1 L1531.2,811.6 L1531.7,809.2 L1532.1,806.7 L1532.6,804.2 L1533.1,801.8 L1533.5,799.3 L1534.0,796.8 L1534.4,794.4 L1534.8,791.9 L1535.3,789.5 L1535.7,787.0 L1536.1,784.5 L1536.5,782.1 L1536.9,779.6 L1537.4,777.1 L1537.8,774.7 L1538.2,772.2 L1538.6,769.7 L1539.0,767.2 L1539.4,764.8 L1539.7,762.3 L1540.1,759.8 L1540.5,757.4 L1540.9,754.9 L1541.3,752.4 L1541.6,749.9 L1542.0,747.5 L1542.4,745.0 L1542.7,742.5 L1543.1,740.0 L1543.5,737.6 L1543.8,735.1 L1544.2,732.6 L1544.5,730.1 L1544.9,727.7 L1545.2,725.2 L1545.5,722.7 L1545.9,720.2 L1546.2,717.8 L1546.6,715.3 L1546.9,712.8 L1547.2,710.3 L1547.5,707.8 L1547.9,705.4 L1548.2,702.9 L1548.5,700.4 L1548.8,697.9 L1549.2,695.4 L1549.5,693.0 L1549.8,690.5 L1550.1,688.0 L1550.4,685.5 L1550.7,683.0 L1551.1,680.6 L1551.4,678.1 L1551.7,675.6 L1552.0,673.1 L1552.3,670.6 L1552.6,668.2 L1552.9,665.7 L1553.2,663.2 L1553.5,660.7 L1553.8,658.2 L1554.1,655.8 L1554.4,653.3 L1554.7,650.8 L1555.0,648.3 L1555.3,645.8 L1555.6,643.4 L1555.9,640.9 L1556.2,638.4 L1556.5,635.9 L1556.9,633.4 L1557.2,631.0 L1557.5,628.5 L1557.8,626.0 L1558.1,623.5 L1558.4,621.0 L1558.7,618.6 L1559.0,616.1 L1559.3,613.6 L1559.6,611.1 L1559.9,608.6 L1560.2,606.2 L1560.5,603.7 L1560.8,601.2 L1561.1,598.7 L1561.5,596.3 L1561.8,593.8 L1562.1,591.3 L1562.4,588.8 L1562.7,586.3 L1563.1,583.9 L1563.4,581.4 L1563.7,578.9 L1564.0,576.4 L1564.4,574.0 L1564.7,571.5 L1565.0,569.0 L1565.3,566.5 L1565.7,564.1 L1566.0,561.6 L1566.4,559.1 L1566.7,556.7 L1567.1,554.2 L1567.4,551.7 L1567.8,549.2 L1568.1,546.8 L1568.5,544.3 L1568.8,541.8 L1569.2,539.4 L1569.5,536.9 L1569.9,534.4 L1570.3,532.0 L1570.6,529.5 L1571.0,527.0 L1571.4,524.6 L1571.8,522.1 L1572.1,519.6 L1572.5,517.1 L1572.9,514.7 L1573.3,512.2 L1573.7,509.8 L1574.1,507.3 L1574.5,504.8 L1574.9,502.4 L1575.3,499.9 L1575.7,497.4 L1576.1,495.0 L1576.5,492.5 L1576.9,490.0 L1577.3,487.6 L1577.7,485.1 L1578.1,482.6 L1578.5,480.2 L1579.0,477.7 L1579.4,475.2 L1579.8,472.8 L1580.2,470.3 L1580.7,467.8 L1581.1,465.4 L1581.5,462.9 L1582.0,460.4 L1582.4,458.0 L1582.8,455.5 L1583.3,453.1 L1583.7,450.6 L1584.2,448.1 L1584.6,445.7 L1585.1,443.2 L1585.5,440.7 L1586.0,438.3 L1586.5,435.8 L1586.9,433.3 L1587.4,430.9 L1587.9,428.4 L1588.3,425.9 L1588.8,423.5 L1589.3,421.0 L1589.8,418.5 L1590.3,416.1 L1590.7,413.6 L1591.2,411.1 L1591.7,408.6 L1592.2,406.2 L1592.7,403.7 L1593.2,401.3 L1593.7,398.8 L1594.2,396.4 L1594.7,393.9 L1595.3,391.5 L1595.8,389.1 L1596.3,386.7 L1596.9,384.3 L1597.4,382.0 L1598.0,379.7 L1598.6,377.4 L1599.2,375.1 L1599.8,372.8 L1600.5,370.5 L1601.3,368.2 L1602.1,365.8 L1603.1,363.3 L1604.2,360.8 L1605.4,358.2 L1606.8,355.6 L1608.3,353.1 L1609.9,350.8 L1611.5,348.8 L1613.3,347.3 L1615.1,346.4 L1617.0,346.1 L1619.0,346.6 L1620.9,347.9 L1622.8,349.6 L1624.5,351.5 L1626.0,353.5 L1627.3,355.6 L1628.5,357.7 L1629.5,359.9 L1630.5,362.2 L1631.3,364.5 L1632.0,366.9 L1632.6,369.3 L1633.2,371.7 L1633.7,374.2 L1634.2,376.6 L1634.7,379.1 L1635.1,381.6 L1635.6,384.0 L1636.0,386.5 L1636.5,389.0 L1636.9,391.5 L1637.3,393.9 L1637.8,396.4 L1638.2,398.9 L1638.6,401.4 L1639.1,403.8 L1639.5,406.3 L1639.9,408.8 L1640.3,411.3 L1640.8,413.7 L1641.2,416.2 L1641.6,418.7 L1642.0,421.2 L1642.4,423.6 L1642.8,426.1 L1643.2,428.6 L1643.6,431.1 L1644.0,433.5 L1644.4,436.0 L1644.8,438.5 L1645.1,441.0 L1645.5,443.4 L1645.9,445.9 L1646.3,448.4 L1646.7,450.9 L1647.0,453.4 L1647.4,455.8 L1647.8,458.3 L1648.1,460.8 L1648.5,463.3 L1648.8,465.7 L1649.2,468.2 L1649.6,470.7 L1649.9,473.2 L1650.3,475.7 L1650.6,478.1 L1650.9,480.6 L1651.3,483.1 L1651.6,485.6 L1652.0,488.1 L1652.3,490.5 L1652.6,493.0 L1653.0,495.5 L1653.3,498.0 L1653.6,500.5 L1654.0,502.9 L1654.3,505.4 L1654.6,507.9 L1654.9,510.4 L1655.2,512.9 L1655.5,515.3 L1655.9,517.8 L1656.2,520.3 L1656.5,522.8 L1656.8,525.3 L1657.1,527.7 L1657.4,530.2 L1657.7,532.7 L1658.0,535.2 L1658.3,537.7 L1658.6,540.1 L1658.9,542.6 L1659.2,545.1 L1659.5,547.6 L1659.8,550.1 L1660.0,552.6 L1660.3,555.0 L1660.6,557.5 L1660.9,560.0 L1661.2,562.5 L1661.5,565.0 L1661.7,567.5 L1662.0,569.9 L1662.3,572.4 L1662.6,574.9 L1662.8,577.4 L1663.1,579.9 L1663.4,582.4 L1663.6,584.8 L1663.9,587.3 L1664.2,589.8 L1664.4,592.3 L1664.7,594.8 L1665.0,597.3 L1665.2,599.7 L1665.5,602.2 L1665.7,604.7 L1666.0,607.2 L1666.2,609.7 L1666.5,612.2 L1666.7,614.6 L1667.0,617.1 L1667.2,619.6 L1667.5,622.1 L1667.7,624.6 L1668.0,627.1 L1668.2,629.6 L1668.5,632.0 L1668.7,634.5 L1669.0,637.0 L1669.2,639.5 L1669.5,642.0 L1669.7,644.5 L1669.9,647.0 L1670.2,649.4 L1670.4,651.9 L1670.7,654.4 L1670.9,656.9 L1671.1,659.4 L1671.4,661.9 L1671.6,664.4 L1671.8,666.8 L1672.1,669.3 L1672.3,671.8 L1672.5,674.3 L1672.8,676.8 L1673.0,679.3 L1673.2,681.8 L1673.5,684.2 L1673.7,686.7 L1673.9,689.2 L1674.2,691.7 L1674.4,694.2 L1674.6,696.7 L1674.9,699.2 L1675.1,701.6 L1675.3,704.1 L1675.5,706.6 L1675.8,709.1 L1676.0,711.6 L1676.2,714.1 L1676.4,716.6 L1676.7,719.1 L1676.9,721.5 L1677.1,724.0 L1677.4,726.5 L1677.6,729.0 L1677.8,731.5 L1678.0,734.0 L1678.3,736.5 L1678.5,738.9 L1678.7,741.4 L1678.9,743.9 L1679.2,746.4 L1679.4,748.9 L1679.6,751.4 L1679.9,753.9 L1680.1,756.4 L1680.3,758.8 L1680.5,761.3 L1680.8,763.8 L1681.0,766.3 L1681.2,768.8 L1681.5,771.3 L1681.7,773.8 L1681.9,776.3 L1682.1,778.7 L1682.4,781.2 L1682.6,783.7 L1682.8,786.2 L1683.1,788.7 L1683.3,791.2 L1683.5,793.7 L1683.8,796.1 L1684.0,798.6 L1684.2,801.1 L1684.5,803.6 L1684.7,806.1 L1685.0,808.6 L1685.2,811.1 L1685.4,813.6 L1685.7,816.0 L1685.9,818.5 L1686.2,821.0 L1686.4,823.5 L1686.6,826.0 L1686.9,828.5 L1687.1,831.0 L1687.4,833.4 L1687.6,835.9 L1687.9,838.4 L1688.1,840.9 L1688.4,843.4 L1688.6,845.9 L1688.9,848.4 L1689.1,850.9 L1689.4,853.3 L1689.6,855.8 L1689.9,858.3 L1690.1,860.8 L1690.4,863.3 L1690.7,865.8 L1690.9,868.3 L1691.2,870.7 L1691.4,873.2 L1691.7,875.7 L1692.0,878.2 L1692.2,880.7 L1692.5,883.2 L1692.8,885.6 L1693.1,888.1 L1693.3,890.6 L1693.6,893.1 L1693.9,895.6 L1694.2,898.1 L1694.4,900.6 L1694.7,903.0 L1695.0,905.5 L1695.3,908.0 L1695.6,910.5 L1695.9,913.0 L1696.2,915.5 L1696.4,917.9 L1696.7,920.4 L1697.0,922.9 L1697.3,925.4 L1697.6,927.9 L1697.9,930.4 L1698.2,932.8 L1698.5,935.3 L1698.8,937.8 L1699.2,940.3 L1699.5,942.8 L1699.8,945.2 L1700.1,947.7 L1700.4,950.2 L1700.7,952.7 L1701.0,955.2 L1701.4,957.6 L1701.7,960.1 L1702.0,962.6 L1702.4,965.1 L1702.7,967.6 L1703.0,970.0 L1703.4,972.5 L1703.7,975.0 L1704.0,977.5 L1704.4,980.0 L1704.7,982.4 L1705.1,984.9 L1705.4,987.4 L1705.8,989.9 L1706.1,992.3 L1706.5,994.8 L1706.8,997.3 L1707.2,999.8 L1707.6,1002.3 L1707.9,1004.7 L1708.3,1007.2 L1708.7,1009.7 L1709.1,1012.2 L1709.4,1014.6 L1709.8,1017.1 L1710.2,1019.6 L1710.6,1022.1 L1711.0,1024.5 L1711.4,1027.0 L1711.8,1029.5 L1712.2,1032.0 L1712.6,1034.4 L1713.0,1036.9 L1713.4,1039.4 L1713.8,1041.8 L1714.2,1044.3 L1714.6,1046.8 L1715.1,1049.2 L1715.5,1051.7 L1715.9,1054.2 L1716.4,1056.6 L1716.8,1059.1 L1717.3,1061.6 L1717.7,1064.0 L1718.2,1066.5 L1718.6,1068.9 L1719.1,1071.4 L1719.6,1073.8 L1720.0,1076.3 L1720.5,1078.7 L1721.0,1081.2 L1721.5,1083.6 L1722.0,1086.0 L1722.5,1088.5 L1723.1,1090.9 L1723.6,1093.3 L1724.1,1095.7 L1724.7,1098.2 L1725.2,1100.6 L1725.8,1103.0 L1726.3,1105.4 L1726.9,1107.8 L1727.5,1110.2 L1728.1,1112.6 L1728.7,1115.0 L1729.3,1117.3 L1729.9,1119.7 L1730.5,1122.1 L1731.1,1124.5 L1731.8,1126.8 L1732.4,1129.2 L1733.1,1131.6 L1733.8,1133.9 L1734.6,1136.3 L1735.4,1138.7 L1736.2,1141.1 L1737.1,1143.5 L1738.0,1146.0 L1739.1,1148.5 L1740.2,1151.0 L1741.4,1153.6 L1742.7,1156.1 L1744.0,1158.6 L1745.5,1160.8 L1747.2,1162.7 L1748.9,1164.2 L1750.8,1165.2 L1752.9,1165.5 L1755.1,1165.2 L1757.3,1164.4 L1759.6,1163.1 L1761.9,1161.6 L1764.0,1160.0 L1766.0,1158.3 L1768.0,1156.5 L1769.7,1154.7 L1771.4,1152.8 L1773.0,1150.9 L1774.5,1148.9 L1775.9,1146.8 L1777.2,1144.7 L1778.5,1142.6 L1779.6,1140.4 L1780.7,1138.2 L1781.8,1135.9 L1782.8,1133.6 L1783.7,1131.3 L1784.6,1129.0 L1785.5,1126.6 L1786.4,1124.3 L1787.2,1121.9 L1788.0,1119.5 L1788.8,1117.1 L1789.5,1114.8 L1790.3,1112.4 L1791.1,1110.0 L1791.9,1107.6 L1792.6,1105.2 L1793.4,1102.8 L1794.1,1100.4 L1794.9,1098.0 L1795.6,1095.6 L1796.4,1093.2 L1797.1,1090.8 L1797.8,1088.4 L1798.5,1086.0 L1799.2,1083.6 L1800.0,1081.2 L1800.7,1078.8 L1801.4,1076.4 L1802.1,1074.0 L1802.7,1071.6 L1803.4,1069.2 L1804.1,1066.8 L1804.8,1064.4 L1805.4,1062.0 L1806.1,1059.5 L1806.8,1057.1 L1807.4,1054.7 L1808.1,1052.3 L1808.7,1049.9 L1809.3,1047.5 L1810.0,1045.1 L1810.6,1042.6 L1811.2,1040.2 L1811.9,1037.8 L1812.5,1035.4 L1813.1,1032.9 L1813.7,1030.5 L1814.3,1028.1 L1814.9,1025.7 L1815.5,1023.2 L1816.1,1020.8 L1816.6,1018.4 L1817.2,1016.0 L1817.8,1013.5 L1818.4,1011.1 L1818.9,1008.7 L1819.5,1006.2 L1820.1,1003.8 L1820.6,1001.4 L1821.2,998.9 L1821.7,996.5 L1822.2,994.1 L1822.8,991.6 L1823.3,989.2 L1823.8,986.7 L1824.4,984.3 L1824.9,981.9 L1825.4,979.4 L1825.9,977.0 L1826.4,974.5 L1826.9,972.1 L1827.4,969.6 L1827.9,967.2 L1828.4,964.7 L1828.9,962.3 L1829.4,959.9 L1829.9,957.4 L1830.4,955.0 L1830.8,952.5 L1831.3,950.1 L1831.8,947.6 L1832.2,945.1 L1832.7,942.7 L1833.2,940.2 L1833.6,937.8 L1834.1,935.3 L1834.5,932.9 L1835.0,930.4 L1835.4,928.0 L1835.8,925.5 L1836.3,923.0 L1836.7,920.6 L1837.1,918.1 L1837.6,915.7 L1838.0,913.2 L1838.4,910.7 L1838.8,908.3 L1839.2,905.8 L1839.6,903.4 L1840.0,900.9 L1840.5,898.4 L1840.9,896.0 L1841.3,893.5 L1841.6,891.0 L1842.0,888.6 L1842.4,886.1 L1842.8,883.6 L1843.2,881.2 L1843.6,878.7 L1844.0,876.2 L1844.3,873.8 L1844.7,871.3 L1845.1,868.8 L1845.4,866.3 L1845.8,863.9 L1846.2,861.4 L1846.5,858.9 L1846.9,856.5 L1847.2,854.0 L1847.6,851.5 L1848.0,849.0 L1848.3,846.6 L1848.6,844.1 L1849.0,841.6 L1849.3,839.1 L1849.7,836.7 L1850.0,834.2 L1850.3,831.7 L1850.7,829.2 L1851.0,826.7 L1851.3,824.3 L1851.7,821.8 L1852.0,819.3 L1852.3,816.8 L1852.6,814.4 L1853.0,811.9 L1853.3,809.4 L1853.6,806.9 L1853.9,804.4 L1854.2,802.0 L1854.5,799.5 L1854.8,797.0 L1855.2,794.5 L1855.5,792.0 L1855.8,789.5 L1856.1,787.1 L1856.4,784.6 L1856.7,782.1 L1857.0,779.6 L1857.3,777.1 L1857.6,774.6 L1857.8,772.2 L1858.1,769.7 L1858.4,767.2 L1858.7,764.7 L1859.0,762.2 L1859.3,759.7 L1859.6,757.3 L1859.9,754.8 L1860.2,752.3 L1860.4,749.8 L1860.7,747.3 L1861.0,744.8 L1861.3,742.3 L1861.6,739.9 L1861.8,737.4 L1862.1,734.9 L1862.4,732.4 L1862.7,729.9 L1862.9,727.4 L1863.2,724.9 L1863.5,722.5 L1863.7,720.0 L1864.0,717.5 L1864.3,715.0 L1864.6,712.5 L1864.8,710.0 L1865.1,707.5 L1865.4,705.0 L1865.6,702.6 L1865.9,700.1 L1866.2,697.6 L1866.4,695.1 L1866.7,692.6 L1867.0,690.1 L1867.2,687.6 L1867.5,685.2 L1867.8,682.7 L1868.0,680.2 L1868.3,677.7 L1868.5,675.2 L1868.8,672.7 L1869.1,670.2 L1869.3,667.7 L1869.6,665.3 L1869.8,662.8 L1870.1,660.3 L1870.4,657.8 L1870.6,655.3 L1870.9,652.8 L1871.1,650.3 L1871.4,647.8 L1871.6,645.4 L1871.9,642.9 L1872.1,640.4 L1872.4,637.9 L1872.7,635.4 L1872.9,632.9 L1873.2,630.4 L1873.4,628.0 L1873.7,625.5 L1873.9,623.0 L1874.2,620.5 L1874.4,618.0 L1874.7,615.5 L1874.9,613.0 L1875.2,610.5 L1875.4,608.1 L1875.7,605.6 L1875.9,603.1 L1876.2,600.6 L1876.4,598.1 L1876.7,595.6 L1876.9,593.1 L1877.1,590.6 L1877.4,588.2 L1877.6,585.7 L1877.9,583.2 L1878.1,580.7 L1878.4,578.2 L1878.6,575.7 L1878.8,573.2 L1879.1,570.7 L1879.3,568.3 L1879.6,565.8 L1879.8,563.3 L1880.0,560.8 L1880.3,558.3 L1880.5,555.8 L1880.8,553.3 L1881.0,550.8 L1881.2,548.4 L1881.5,545.9 L1881.7,543.4 L1881.9,540.9 L1882.2,538.4 L1882.4,535.9 L1882.6,533.4 L1882.9,530.9 L1883.1,528.5 L1883.3,526.0 L1883.6,523.5 L1883.8,521.0 L1884.0,518.5 L1884.3,516.0 L1884.5,513.5 L1884.7,511.0 L1884.9,508.6 L1885.2,506.1 L1885.4,503.6 L1885.6,501.1 L1885.9,498.6 L1886.1,496.1 L1886.3,493.6 L1886.5,491.1 L1886.8,488.6 L1887.0,486.2 L1887.2,483.7 L1887.4,481.2 L1887.6,478.7 L1887.9,476.2 L1888.1,473.7 L1888.3,471.2 L1888.5,468.7 L1888.8,466.3 L1889.0,463.8 L1889.2,461.3 L1889.4,458.8 L1889.6,456.3 L1889.8,453.8 L1890.1,451.3 L1890.3,448.8 L1890.5,446.3 L1890.7,443.9 L1890.9,441.4 L1891.1,438.9 L1891.4,436.4 L1891.6,433.9 L1891.8,431.4 L1892.0,428.9 L1892.2,426.4 L1892.4,423.9 L1892.6,421.5 L1892.8,419.0 L1893.0,416.5 L1893.3,414.0 L1893.5,411.5 L1893.7,409.0 L1893.9,406.5 L1894.1,404.0 L1894.3,401.5 L1894.5,399.1 L1894.7,396.6 L1894.9,394.1 L1895.1,391.6 L1895.3,389.1 L1895.5,386.6 L1895.7,384.1 L1895.9,381.6 L1896.1,379.1 L1896.3,376.6 L1896.5,374.2 L1896.7,371.7 L1896.9,369.2 L1897.1,366.7 L1897.3,364.2 L1897.5,361.7 L1897.7,359.2 L1897.9,356.7 L1898.1,354.2 L1898.3,351.7 L1898.5,349.3 L1898.7,346.8 L1898.9,344.3 L1899.1,341.8 L1899.3,339.3 L1899.5,336.8 L1899.7,334.3 L1899.9,331.8 L1900.1,329.3 L1900.3,326.8 L1900.4,324.3 L1900.6,321.9 L1900.8,319.4 L1901.0,316.9 L1901.2,314.4 L1901.4,311.9 L1901.6,309.4 L1901.8,306.9 L1902.0,304.4 L1902.1,301.9 L1902.3,299.4 L1902.5,296.9 L1902.7,294.5 L1902.9,292.0 L1903.1,289.5 L1903.2,287.0 L1903.4,284.5 L1903.6,282.0 L1903.8,279.5 L1904.0,277.0 L1904.2,274.5 L1904.3,272.0 L1904.5,269.5 L1904.7,267.0 L1904.9,264.6 L1905.0,262.1 L1905.2,259.6 L1905.4,257.1 L1905.6,254.6 L1905.8,252.1 L1905.9,249.6 L1906.1,247.1 L1906.3,244.6 L1906.4,242.1 L1906.6,239.6 L1906.8,237.1 L1907.0,234.6 L1907.1,232.2 L1907.3,229.7 L1907.5,227.2 L1907.6,224.7 L1907.8,222.2 L1908.0,219.7 L1908.2,217.2 L1908.3,214.7 L1908.5,212.2 L1908.7,209.7 L1908.8,207.2 L1909.0,204.7 L1909.2,202.2 L1909.3,199.7 L1909.5,197.2 L1909.6,194.8 L1909.8,192.3 L1910.0,189.8 L1910.1,187.3 L1910.3,184.8 L1910.5,182.3 L1910.6,179.8 L1910.8,177.3 L1910.9,174.8 L1911.1,172.3 L1911.3,169.8 L1911.4,167.3 L1911.6,164.8 L1911.7,162.3 L1911.9,159.8 L1912.0,157.3 L1912.2,154.8 L1912.3,152.3 L1912.5,149.9 L1912.7,147.4 L1912.8,144.9 L1913.0,142.4 L1913.1,139.9 L1913.3,137.4 L1913.4,134.9 L1913.6,132.4 L1913.7,129.9 L1913.9,127.4 L1914.0,124.9 L1914.2,122.4 L1914.3,119.9 L1914.4,117.4 L1914.6,114.9 L1914.7,112.4 L1914.9,109.9 L1915.0,107.4 L1915.2,104.9 L1915.3,102.4 L1915.5,99.9 L1915.6,97.4 L1915.7,94.9 L1915.9,92.4 L1916.0,89.9 L1916.2,87.4 L1916.3,85.0 L1916.4,82.5 L1916.6,80.0 L1916.7,77.5 L1916.9,75.0 L1917.0,72.5 L1917.1,70.0 L1917.3,67.5 L1917.4,65.0 L1917.5,62.5 L1917.7,60.0" stroke="#ec6a00" stroke-width="6.3"/>
<path d="M288.8,1291.2 L291.3,1291.1 L293.9,1291.0 L296.4,1290.9 L298.9,1290.8 L301.4,1290.8 L303.9,1290.7 L306.5,1290.6 L309.0,1290.5 L311.5,1290.4 L314.0,1290.3 L316.5,1290.3 L319.1,1290.2 L321.6,1290.1 L324.1,1290.0 L326.6,1289.9 L329.1,1289.8 L331.6,1289.8 L334.1,1289.7 L336.6,1289.6 L339.2,1289.5 L341.7,1289.4 L344.2,1289.3 L346.7,1289.3 L349.2,1289.2 L351.7,1289.1 L354.2,1289.0 L356.7,1288.9 L359.2,1288.9 L361.7,1288.8 L364.2,1288.7 L366.7,1288.6 L369.2,1288.5 L371.7,1288.4 L374.2,1288.4 L376.7,1288.3 L379.2,1288.2 L381.7,1288.1 L384.2,1288.0 L386.7,1287.9 L389.2,1287.9 L391.7,1287.8 L394.2,1287.7 L396.7,1287.6 L399.2,1287.5 L401.7,1287.4 L404.2,1287.3 L406.7,1287.3 L409.2,1287.2 L411.7,1287.1 L414.2,1287.0 L416.7,1286.9 L419.2,1286.8 L421.7,1286.7 L424.2,1286.6 L426.7,1286.5 L429.2,1286.5 L431.7,1286.4 L434.2,1286.3 L436.6,1286.2 L439.1,1286.1 L441.6,1286.0 L444.1,1285.9 L446.6,1285.8 L449.1,1285.7 L451.6,1285.6 L454.1,1285.5 L456.6,1285.4 L459.1,1285.3 L461.5,1285.2 L464.0,1285.1 L466.5,1285.0 L469.0,1284.9 L471.5,1284.8 L474.0,1284.7 L476.5,1284.6 L479.0,1284.5 L481.4,1284.4 L483.9,1284.3 L486.4,1284.2 L488.9,1284.1 L491.4,1284.0 L493.9,1283.9 L496.4,1283.7 L498.8,1283.6 L501.3,1283.5 L503.8,1283.4 L506.3,1283.3 L508.8,1283.2 L511.3,1283.1 L513.7,1282.9 L516.2,1282.8 L518.7,1282.7 L521.2,1282.6 L523.7,1282.5 L526.2,1282.3 L528.7,1282.2 L531.1,1282.1 L533.6,1282.0 L536.1,1281.8 L538.6,1281.7 L541.1,1281.6 L543.6,1281.4 L546.0,1281.3 L548.5,1281.2 L551.0,1281.0 L553.5,1280.9 L556.0,1280.8 L558.5,1280.6 L560.9,1280.5 L563.4,1280.4 L565.9,1280.2 L568.4,1280.1 L570.9,1279.9 L573.4,1279.8 L575.9,1279.6 L578.3,1279.5 L580.8,1279.3 L583.3,1279.2 L585.8,1279.0 L588.3,1278.9 L590.8,1278.7 L593.3,1278.5 L595.7,1278.4 L598.2,1278.2 L600.7,1278.0 L603.2,1277.9 L605.7,1277.7 L608.2,1277.5 L610.7,1277.4 L613.2,1277.2 L615.6,1277.0 L618.1,1276.9 L620.6,1276.7 L623.1,1276.5 L625.6,1276.3 L628.1,1276.1 L630.6,1275.9 L633.1,1275.8 L635.6,1275.6 L638.1,1275.4 L640.5,1275.2 L643.0,1275.0 L645.5,1274.8 L648.0,1274.6 L650.5,1274.4 L653.0,1274.2 L655.5,1274.0 L658.0,1273.8 L660.5,1273.6 L663.0,1273.4 L665.5,1273.2 L668.0,1273.0 L670.5,1272.7 L673.0,1272.5 L675.5,1272.3 L678.0,1272.1 L680.5,1271.9 L683.0,1271.6 L685.5,1271.4 L688.0,1271.2 L690.5,1270.9 L693.0,1270.7 L695.5,1270.5 L698.0,1270.2 L700.5,1270.0 L703.0,1269.7 L705.5,1269.5 L708.0,1269.2 L710.5,1269.0 L713.0,1268.7 L715.5,1268.5 L718.0,1268.2 L720.5,1268.0 L723.0,1267.7 L725.5,1267.4 L728.0,1267.2 L730.5,1266.9 L733.0,1266.6 L735.5,1266.3 L738.0,1266.0 L740.5,1265.8 L743.0,1265.5 L745.6,1265.2 L748.1,1264.9 L750.6,1264.6 L753.1,1264.2 L755.6,1263.9 L758.1,1263.6 L760.6,1263.3 L763.1,1263.0 L765.6,1262.6 L768.1,1262.3 L770.6,1262.0 L773.1,1261.6 L775.5,1261.3 L778.0,1260.9 L780.5,1260.5 L783.0,1260.2 L785.5,1259.8 L788.0,1259.4 L790.5,1259.0 L793.0,1258.7 L795.5,1258.3 L797.9,1257.9 L800.4,1257.5 L802.9,1257.0 L805.4,1256.6 L807.9,1256.2 L810.3,1255.8 L812.8,1255.3 L815.3,1254.9 L817.8,1254.4 L820.2,1254.0 L822.7,1253.5 L825.1,1253.0 L827.6,1252.6 L830.1,1252.1 L832.5,1251.6 L835.0,1251.1 L837.4,1250.6 L839.9,1250.1 L842.3,1249.5 L844.8,1249.0 L847.2,1248.5 L849.6,1247.9 L852.1,1247.4 L854.5,1246.8 L856.9,1246.2 L859.4,1245.6 L861.8,1245.1 L864.2,1244.5 L866.6,1243.9 L869.1,1243.2 L871.5,1242.6 L873.9,1242.0 L876.3,1241.3 L878.7,1240.7 L881.1,1240.0 L883.5,1239.4 L885.9,1238.7 L888.3,1238.0 L890.6,1237.3 L893.0,1236.6 L895.4,1235.9 L897.8,1235.2 L900.2,1234.4 L902.5,1233.7 L904.9,1232.9 L907.2,1232.2 L909.6,1231.4 L911.9,1230.6 L914.3,1229.8 L916.6,1229.0 L919.0,1228.2 L921.3,1227.4 L923.6,1226.5 L926.0,1225.7 L928.3,1224.8 L930.6,1223.9 L932.9,1223.1 L935.2,1222.2 L937.5,1221.2 L939.8,1220.3 L942.1,1219.4 L944.4,1218.5 L946.7,1217.5 L949.0,1216.5 L951.2,1215.6 L953.5,1214.6 L955.8,1213.6 L958.0,1212.6 L960.3,1211.5 L962.5,1210.5 L964.8,1209.4 L967.0,1208.4 L969.2,1207.3 L971.5,1206.2 L973.7,1205.1 L975.9,1204.0 L978.1,1202.9 L980.3,1201.7 L982.5,1200.6 L984.7,1199.4 L986.9,1198.2 L989.1,1197.0 L991.2,1195.8 L993.4,1194.6 L995.6,1193.4 L997.7,1192.1 L999.9,1190.8 L1002.0,1189.6 L1004.2,1188.3 L1006.3,1187.0 L1008.4,1185.6 L1010.5,1184.3 L1012.6,1182.9 L1014.7,1181.6 L1016.8,1180.2 L1018.9,1178.8 L1021.0,1177.4 L1023.1,1176.0 L1025.1,1174.6 L1027.2,1173.1 L1029.3,1171.7 L1031.3,1170.2 L1033.3,1168.7 L1035.4,1167.2 L1037.4,1165.7 L1039.4,1164.2 L1041.4,1162.7 L1043.4,1161.1 L1045.3,1159.6 L1047.3,1158.0 L1049.3,1156.4 L1051.2,1154.8 L1053.2,1153.2 L1055.1,1151.6 L1057.0,1149.9 L1059.0,1148.3 L1060.9,1146.6 L1062.8,1145.0 L1064.6,1143.3 L1066.5,1141.6 L1068.4,1139.9 L1070.2,1138.2 L1072.1,1136.5 L1073.9,1134.7 L1075.7,1133.0 L1077.5,1131.2 L1079.3,1129.4 L1081.1,1127.7 L1082.9,1125.9 L1084.6,1124.1 L1086.4,1122.3 L1088.1,1120.4 L1089.8,1118.6 L1091.6,1116.7 L1093.3,1114.9 L1094.9,1113.0 L1096.6,1111.1 L1098.3,1109.3 L1099.9,1107.4 L1101.6,1105.5 L1103.2,1103.5 L1104.8,1101.6 L1106.4,1099.7 L1108.0,1097.7 L1109.5,1095.8 L1111.1,1093.8 L1112.6,1091.8 L1114.2,1089.8 L1115.7,1087.8 L1117.2,1085.8 L1118.7,1083.8 L1120.1,1081.8 L1121.6,1079.8 L1123.0,1077.7 L1124.4,1075.7 L1125.8,1073.6 L1127.2,1071.6 L1128.6,1069.5 L1130.0,1067.4 L1131.3,1065.3 L1132.6,1063.2 L1134.0,1061.1 L1135.3,1059.0 L1136.6,1056.8 L1137.8,1054.7 L1139.1,1052.6 L1140.3,1050.4 L1141.6,1048.3 L1142.8,1046.1 L1144.0,1044.0 L1145.3,1041.8 L1146.5,1039.6 L1147.7,1037.4 L1148.9,1035.3 L1150.0,1033.1 L1151.2,1030.9 L1152.4,1028.7 L1153.6,1026.5 L1154.7,1024.3 L1155.9,1022.1 L1157.1,1019.9 L1158.2,1017.7 L1159.4,1015.5 L1160.5,1013.3 L1161.7,1011.1 L1162.8,1008.8 L1164.0,1006.6 L1165.1,1004.4 L1166.2,1002.2 L1167.4,1000.0 L1168.5,997.7 L1169.6,995.5 L1170.8,993.3 L1171.9,991.0 L1173.0,988.8 L1174.1,986.6 L1175.2,984.3 L1176.3,982.1 L1177.4,979.8 L1178.5,977.6 L1179.6,975.4 L1180.7,973.1 L1181.8,970.8 L1182.9,968.6 L1184.0,966.3 L1185.0,964.1 L1186.1,961.8 L1187.2,959.5 L1188.2,957.3 L1189.3,955.0 L1190.3,952.7 L1191.4,950.4 L1192.4,948.2 L1193.4,945.9 L1194.5,943.6 L1195.5,941.3 L1196.5,939.0 L1197.5,936.7 L1198.5,934.4 L1199.5,932.1 L1200.5,929.9 L1201.5,927.5 L1202.5,925.2 L1203.4,922.9 L1204.4,920.6 L1205.4,918.3 L1206.3,916.0 L1207.2,913.7 L1208.2,911.4 L1209.1,909.0 L1210.0,906.7 L1211.0,904.4 L1211.9,902.1 L1212.8,899.7 L1213.7,897.4 L1214.5,895.1 L1215.4,892.7 L1216.3,890.4 L1217.2,888.0 L1218.0,885.7 L1218.9,883.3 L1219.7,881.0 L1220.5,878.6 L1221.4,876.3 L1222.2,873.9 L1223.0,871.5 L1223.8,869.2 L1224.6,866.8 L1225.4,864.4 L1226.2,862.1 L1227.0,859.7 L1227.8,857.3 L1228.5,854.9 L1229.3,852.6 L1230.1,850.2 L1230.8,847.8 L1231.6,845.4 L1232.3,843.0 L1233.1,840.6 L1233.8,838.2 L1234.5,835.9 L1235.3,833.5 L1236.0,831.1 L1236.7,828.7 L1237.4,826.3 L1238.1,823.9 L1238.8,821.5 L1239.5,819.1 L1240.2,816.7 L1240.9,814.3 L1241.6,811.9 L1242.3,809.4 L1242.9,807.0 L1243.6,804.6 L1244.3,802.2 L1245.0,799.8 L1245.6,797.4 L1246.3,795.0 L1246.9,792.6 L1247.6,790.2 L1248.2,787.7 L1248.9,785.3 L1249.5,782.9 L1250.2,780.5 L1250.8,778.1 L1251.5,775.6 L1252.1,773.2 L1252.7,770.8 L1253.3,768.4 L1254.0,766.0 L1254.6,763.5 L1255.2,761.1 L1255.8,758.7 L1256.5,756.3 L1257.1,753.8 L1257.7,751.4 L1258.3,749.0 L1258.9,746.6 L1259.5,744.1 L1260.1,741.7 L1260.8,739.3 L1261.4,736.9 L1262.0,734.4 L1262.6,732.0 L1263.2,729.6 L1263.8,727.2 L1264.4,724.7 L1265.0,722.3 L1265.6,719.9 L1266.2,717.5 L1266.8,715.0 L1267.4,712.6 L1268.0,710.2 L1268.6,707.8 L1269.2,705.3 L1269.8,702.9 L1270.4,700.5 L1270.9,698.0 L1271.5,695.6 L1272.1,693.2 L1272.7,690.8 L1273.3,688.3 L1273.9,685.9 L1274.5,683.5 L1275.0,681.1 L1275.6,678.6 L1276.2,676.2 L1276.8,673.8 L1277.3,671.3 L1277.9,668.9 L1278.5,666.5 L1279.1,664.1 L1279.6,661.6 L1280.2,659.2 L1280.8,656.8 L1281.3,654.3 L1281.9,651.9 L1282.5,649.5 L1283.0,647.0 L1283.6,644.6 L1284.1,642.2 L1284.7,639.7 L1285.2,637.3 L1285.8,634.9 L1286.3,632.4 L1286.9,630.0 L1287.4,627.6 L1288.0,625.1 L1288.5,622.7 L1289.1,620.3 L1289.6,617.8 L1290.2,615.4 L1290.7,612.9 L1291.2,610.5 L1291.8,608.1 L1292.3,605.6 L1292.8,603.2 L1293.4,600.8 L1293.9,598.3 L1294.4,595.9 L1294.9,593.4 L1295.5,591.0 L1296.0,588.5 L1296.5,586.1 L1297.0,583.7 L1297.5,581.2 L1298.1,578.8 L1298.6,576.3 L1299.1,573.9 L1299.6,571.4 L1300.1,569.0 L1300.6,566.5 L1301.1,564.1 L1301.6,561.6 L1302.1,559.2 L1302.6,556.7 L1303.1,554.3 L1303.6,551.8 L1304.1,549.4 L1304.6,546.9 L1305.1,544.5 L1305.5,542.0 L1306.0,539.6 L1306.5,537.1 L1307.0,534.7 L1307.5,532.2 L1307.9,529.8 L1308.4,527.3 L1308.9,524.8 L1309.4,522.4 L1309.8,519.9 L1310.3,517.5 L1310.7,515.0 L1311.2,512.5 L1311.7,510.1 L1312.1,507.6 L1312.6,505.1 L1313.0,502.7 L1313.5,500.2 L1313.9,497.7 L1314.4,495.3 L1314.8,492.8 L1315.3,490.3 L1315.7,487.9 L1316.1,485.4 L1316.6,482.9 L1317.0,480.5 L1317.4,478.0 L1317.9,475.5 L1318.3,473.0 L1318.8,470.6 L1319.2,468.1 L1319.6,465.6 L1320.1,463.2 L1320.5,460.7 L1321.0,458.2 L1321.4,455.8 L1321.8,453.3 L1322.3,450.8 L1322.7,448.4 L1323.2,445.9 L1323.6,443.4 L1324.1,441.0 L1324.6,438.5 L1325.0,436.0 L1325.5,433.6 L1326.0,431.1 L1326.4,428.7 L1326.9,426.2 L1327.4,423.8 L1327.9,421.3 L1328.4,418.8 L1328.9,416.4 L1329.4,414.0 L1329.9,411.5 L1330.4,409.1 L1330.9,406.6 L1331.5,404.2 L1332.0,401.8 L1332.5,399.3 L1333.1,396.9 L1333.6,394.5 L1334.2,392.0 L1334.7,389.6 L1335.3,387.2 L1335.9,384.8 L1336.5,382.4 L1337.1,380.0 L1337.7,377.6 L1338.3,375.1 L1338.9,372.7 L1339.6,370.4 L1340.2,368.0 L1340.9,365.6 L1341.5,363.2 L1342.2,360.8 L1342.9,358.4 L1343.6,356.0 L1344.3,353.7 L1345.0,351.3 L1345.7,349.0 L1346.5,346.6 L1347.2,344.2 L1348.0,341.9 L1348.8,339.5 L1349.6,337.2 L1350.4,334.9 L1351.2,332.5 L1352.0,330.2 L1352.8,327.9 L1353.7,325.5 L1354.6,323.2 L1355.5,320.9 L1356.4,318.5 L1357.4,316.1 L1358.3,313.7 L1359.4,311.3 L1360.4,308.9 L1361.5,306.4 L1362.6,303.9 L1363.7,301.4 L1364.9,298.8 L1366.1,296.3 L1367.4,293.9 L1368.7,291.8 L1370.1,290.1 L1371.6,289.0 L1373.2,288.6 L1375.0,289.1 L1376.8,290.3 L1378.6,292.1 L1380.3,294.2 L1382.0,296.6 L1383.5,299.0 L1384.9,301.5 L1386.1,303.9 L1387.1,306.3 L1388.1,308.7 L1388.9,311.1 L1389.7,313.5 L1390.3,315.9 L1390.9,318.4 L1391.4,320.8 L1391.9,323.2 L1392.3,325.6 L1392.7,328.0 L1393.1,330.4 L1393.5,332.8 L1393.8,335.3 L1394.2,337.7 L1394.6,340.1 L1395.0,342.6 L1395.4,345.0 L1395.7,347.5 L1396.1,349.9 L1396.5,352.4 L1396.9,354.8 L1397.2,357.3 L1397.6,359.7 L1398.0,362.2 L1398.3,364.7 L1398.7,367.1 L1399.1,369.6 L1399.4,372.1 L1399.8,374.5 L1400.1,377.0 L1400.5,379.5 L1400.9,382.0 L1401.2,384.5 L1401.6,386.9 L1401.9,389.4 L1402.3,391.9 L1402.6,394.4 L1403.0,396.9 L1403.3,399.4 L1403.6,401.9 L1404.0,404.4 L1404.3,406.8 L1404.6,409.3 L1405.0,411.8 L1405.3,414.3 L1405.6,416.8 L1406.0,419.3 L1406.3,421.8 L1406.6,424.3 L1406.9,426.7 L1407.3,429.2 L1407.6,431.7 L1407.9,434.2 L1408.2,436.7 L1408.5,439.2 L1408.8,441.7 L1409.2,444.1 L1409.5,446.6 L1409.8,449.1 L1410.1,451.6 L1410.4,454.1 L1410.7,456.6 L1411.0,459.1 L1411.3,461.5 L1411.6,464.0 L1411.9,466.5 L1412.2,469.0 L1412.5,471.5 L1412.7,474.0 L1413.0,476.5 L1413.3,478.9 L1413.6,481.4 L1413.9,483.9 L1414.2,486.4 L1414.5,488.9 L1414.7,491.4 L1415.0,493.9 L1415.3,496.3 L1415.6,498.8 L1415.9,501.3 L1416.1,503.8 L1416.4,506.3 L1416.7,508.8 L1416.9,511.2 L1417.2,513.7 L1417.5,516.2 L1417.8,518.7 L1418.0,521.2 L1418.3,523.7 L1418.5,526.2 L1418.8,528.6 L1419.1,531.1 L1419.3,533.6 L1419.6,536.1 L1419.8,538.6 L1420.1,541.1 L1420.4,543.5 L1420.6,546.0 L1420.9,548.5 L1421.1,551.0 L1421.4,553.5 L1421.6,556.0 L1421.9,558.5 L1422.1,560.9 L1422.4,563.4 L1422.6,565.9 L1422.9,568.4 L1423.1,570.9 L1423.4,573.4 L1423.6,575.8 L1423.8,578.3 L1424.1,580.8 L1424.3,583.3 L1424.6,585.8 L1424.8,588.3 L1425.1,590.8 L1425.3,593.2 L1425.5,595.7 L1425.8,598.2 L1426.0,600.7 L1426.2,603.2 L1426.5,605.7 L1426.7,608.2 L1426.9,610.6 L1427.2,613.1 L1427.4,615.6 L1427.6,618.1 L1427.9,620.6 L1428.1,623.1 L1428.3,625.6 L1428.6,628.0 L1428.8,630.5 L1429.0,633.0 L1429.3,635.5 L1429.5,638.0 L1429.7,640.5 L1430.0,643.0 L1430.2,645.5 L1430.4,647.9 L1430.6,650.4 L1430.9,652.9 L1431.1,655.4 L1431.3,657.9 L1431.5,660.4 L1431.8,662.9 L1432.0,665.4 L1432.2,667.8 L1432.5,670.3 L1432.7,672.8 L1432.9,675.3 L1433.1,677.8 L1433.4,680.3 L1433.6,682.8 L1433.8,685.3 L1434.0,687.8 L1434.3,690.2 L1434.5,692.7 L1434.7,695.2 L1434.9,697.7 L1435.2,700.2 L1435.4,702.7 L1435.6,705.2 L1435.8,707.7 L1436.1,710.2 L1436.3,712.7 L1436.5,715.1 L1436.7,717.6 L1437.0,720.1 L1437.2,722.6 L1437.4,725.1 L1437.7,727.6 L1437.9,730.1 L1438.1,732.6 L1438.3,735.1 L1438.6,737.6 L1438.8,740.1 L1439.0,742.6 L1439.3,745.0 L1439.5,747.5 L1439.8,750.0 L1440.0,752.5 L1440.2,755.0 L1440.5,757.5 L1440.7,760.0 L1441.0,762.5 L1441.2,765.0 L1441.4,767.5 L1441.7,770.0 L1441.9,772.4 L1442.2,774.9 L1442.4,777.4 L1442.7,779.9 L1443.0,782.4 L1443.2,784.9 L1443.5,787.4 L1443.7,789.9 L1444.0,792.4 L1444.3,794.8 L1444.5,797.3 L1444.8,799.8 L1445.1,802.3 L1445.4,804.8 L1445.6,807.3 L1445.9,809.8 L1446.2,812.2 L1446.5,814.7 L1446.8,817.2 L1447.1,819.7 L1447.4,822.2 L1447.7,824.7 L1448.0,827.1 L1448.3,829.6 L1448.6,832.1 L1448.9,834.6 L1449.2,837.1 L1449.5,839.5 L1449.8,842.0 L1450.1,844.5 L1450.5,847.0 L1450.8,849.4 L1451.1,851.9 L1451.4,854.4 L1451.8,856.9 L1452.1,859.3 L1452.5,861.8 L1452.8,864.3 L1453.2,866.7 L1453.5,869.2 L1453.9,871.7 L1454.3,874.1 L1454.6,876.6 L1455.0,879.1 L1455.4,881.5 L1455.7,884.0 L1456.1,886.5 L1456.5,888.9 L1456.9,891.4 L1457.3,893.9 L1457.7,896.3 L1458.1,898.8 L1458.5,901.3 L1458.9,903.7 L1459.3,906.2 L1459.7,908.6 L1460.1,911.1 L1460.6,913.6 L1461.0,916.0 L1461.4,918.5 L1461.8,920.9 L1462.3,923.4 L1462.7,925.9 L1463.2,928.3 L1463.6,930.8 L1464.0,933.2 L1464.5,935.7 L1464.9,938.2 L1465.4,940.6 L1465.9,943.1 L1466.3,945.5 L1466.8,948.0 L1467.2,950.5 L1467.7,952.9 L1468.2,955.4 L1468.7,957.9 L1469.1,960.3 L1469.6,962.8 L1470.1,965.2 L1470.6,967.7 L1471.1,970.2 L1471.5,972.7 L1472.0,975.1 L1472.5,977.6 L1473.0,980.1 L1473.5,982.5 L1474.1,985.0 L1474.6,987.5 L1475.3,989.9 L1475.9,992.3 L1476.7,994.8 L1477.6,997.2 L1478.5,999.5 L1479.6,1001.9 L1480.9,1004.2 L1482.2,1006.5 L1483.7,1008.6 L1485.4,1010.4 L1487.1,1011.7 L1488.9,1012.3 L1490.7,1012.2 L1492.5,1011.4 L1494.3,1010.0 L1496.0,1008.3 L1497.4,1006.3 L1498.8,1004.1 L1500.0,1001.8 L1501.0,999.2 L1502.0,996.7 L1502.9,994.0 L1503.8,991.4 L1504.6,988.8 L1505.3,986.3 L1506.0,983.7 L1506.6,981.2 L1507.2,978.7 L1507.8,976.2 L1508.3,973.7 L1508.8,971.3 L1509.3,968.8 L1509.7,966.4 L1510.2,964.0 L1510.6,961.6 L1511.0,959.2 L1511.4,956.8 L1511.8,954.4 L1512.2,952.0 L1512.6,949.6 L1513.1,947.2 L1513.5,944.8 L1513.9,942.4 L1514.4,939.9 L1514.8,937.5 L1515.3,935.1 L1515.8,932.7 L1516.2,930.3 L1516.7,927.9 L1517.2,925.5 L1517.7,923.0 L1518.2,920.6 L1518.7,918.2 L1519.2,915.8 L1519.7,913.3 L1520.2,910.9 L1520.8,908.5 L1521.3,906.0 L1521.8,903.6 L1522.3,901.2 L1522.9,898.7 L1523.4,896.3 L1524.0,893.8 L1524.5,891.4 L1525.0,889.0 L1525.6,886.5 L1526.1,884.1 L1526.7,881.6 L1527.2,879.2 L1527.8,876.7 L1528.3,874.3 L1528.9,871.8 L1529.4,869.4 L1529.9,866.9 L1530.5,864.5 L1531.0,862.0 L1531.6,859.6 L1532.1,857.1 L1532.6,854.7 L1533.2,852.2 L1533.7,849.8 L1534.2,847.3 L1534.7,844.9 L1535.3,842.4 L1535.8,839.9 L1536.3,837.5 L1536.8,835.0 L1537.3,832.6 L1537.8,830.1 L1538.3,827.7 L1538.8,825.2 L1539.3,822.8 L1539.8,820.3 L1540.3,817.8 L1540.7,815.4 L1541.2,812.9 L1541.7,810.5 L1542.2,808.0 L1542.6,805.5 L1543.1,803.1 L1543.6,800.6 L1544.1,798.2 L1544.5,795.7 L1545.0,793.3 L1545.4,790.8 L1545.9,788.3 L1546.3,785.9 L1546.8,783.4 L1547.2,781.0 L1547.7,778.5 L1548.1,776.0 L1548.6,773.6 L1549.0,771.1 L1549.4,768.7 L1549.9,766.2 L1550.3,763.7 L1550.8,761.3 L1551.2,758.8 L1551.6,756.3 L1552.0,753.9 L1552.5,751.4 L1552.9,749.0 L1553.3,746.5 L1553.7,744.0 L1554.1,741.6 L1554.6,739.1 L1555.0,736.7 L1555.4,734.2 L1555.8,731.7 L1556.2,729.3 L1556.6,726.8 L1557.0,724.3 L1557.5,721.9 L1557.9,719.4 L1558.3,717.0 L1558.7,714.5 L1559.1,712.0 L1559.5,709.6 L1559.9,707.1 L1560.3,704.6 L1560.7,702.2 L1561.1,699.7 L1561.5,697.2 L1561.9,694.8 L1562.3,692.3 L1562.7,689.9 L1563.1,687.4 L1563.5,684.9 L1563.9,682.5 L1564.3,680.0 L1564.7,677.5 L1565.1,675.1 L1565.5,672.6 L1565.9,670.2 L1566.3,667.7 L1566.7,665.2 L1567.0,662.8 L1567.4,660.3 L1567.8,657.8 L1568.2,655.4 L1568.6,652.9 L1569.0,650.4 L1569.4,648.0 L1569.8,645.5 L1570.2,643.1 L1570.6,640.6 L1571.0,638.1 L1571.4,635.7 L1571.8,633.2 L1572.2,630.7 L1572.6,628.3 L1573.0,625.8 L1573.4,623.4 L1573.8,620.9 L1574.2,618.4 L1574.6,616.0 L1575.0,613.5 L1575.4,611.1 L1575.8,608.6 L1576.2,606.1 L1576.6,603.7 L1577.1,601.2 L1577.5,598.8 L1577.9,596.3 L1578.3,593.8 L1578.7,591.4 L1579.1,588.9 L1579.5,586.4 L1580.0,584.0 L1580.4,581.5 L1580.8,579.1 L1581.2,576.6 L1581.6,574.2 L1582.1,571.7 L1582.5,569.2 L1582.9,566.8 L1583.4,564.3 L1583.8,561.9 L1584.2,559.4 L1584.7,556.9 L1585.1,554.5 L1585.5,552.0 L1586.0,549.6 L1586.5,547.1 L1586.9,544.7 L1587.4,542.2 L1587.8,539.7 L1588.3,537.3 L1588.8,534.8 L1589.3,532.4 L1589.8,529.9 L1590.3,527.5 L1590.9,525.0 L1591.4,522.6 L1591.9,520.1 L1592.5,517.7 L1593.1,515.2 L1593.7,512.8 L1594.3,510.3 L1594.9,507.8 L1595.6,505.4 L1596.2,502.9 L1596.9,500.5 L1597.6,498.1 L1598.4,495.7 L1599.2,493.2 L1600.0,490.8 L1600.9,488.5 L1601.8,486.1 L1602.7,483.8 L1603.7,481.4 L1604.8,479.1 L1605.9,476.9 L1607.1,474.6 L1608.3,472.4 L1609.6,470.2 L1611.0,468.1 L1612.5,466.2 L1614.0,464.7 L1615.7,464.0 L1617.4,464.0 L1619.3,464.9 L1621.1,466.4 L1622.9,468.3 L1624.5,470.4 L1625.9,472.6 L1627.1,474.8 L1628.2,477.1 L1629.1,479.5 L1630.0,481.9 L1630.7,484.3 L1631.4,486.7 L1632.1,489.2 L1632.7,491.6 L1633.4,494.1 L1634.0,496.5 L1634.6,499.0 L1635.2,501.4 L1635.8,503.9 L1636.4,506.3 L1637.0,508.8 L1637.6,511.2 L1638.1,513.7 L1638.7,516.1 L1639.2,518.6 L1639.8,521.1 L1640.3,523.5 L1640.8,526.0 L1641.4,528.4 L1641.9,530.9 L1642.4,533.4 L1642.9,535.8 L1643.3,538.3 L1643.8,540.7 L1644.3,543.2 L1644.8,545.7 L1645.2,548.1 L1645.7,550.6 L1646.1,553.1 L1646.6,555.5 L1647.0,558.0 L1647.4,560.5 L1647.8,562.9 L1648.3,565.4 L1648.7,567.9 L1649.1,570.3 L1649.5,572.8 L1649.9,575.3 L1650.3,577.7 L1650.7,580.2 L1651.0,582.7 L1651.4,585.1 L1651.8,587.6 L1652.1,590.1 L1652.5,592.6 L1652.9,595.0 L1653.2,597.5 L1653.6,600.0 L1653.9,602.4 L1654.3,604.9 L1654.6,607.4 L1654.9,609.9 L1655.3,612.3 L1655.6,614.8 L1655.9,617.3 L1656.3,619.8 L1656.6,622.2 L1656.9,624.7 L1657.2,627.2 L1657.6,629.7 L1657.9,632.1 L1658.2,634.6 L1658.5,637.1 L1658.8,639.6 L1659.1,642.0 L1659.4,644.5 L1659.7,647.0 L1660.0,649.5 L1660.3,651.9 L1660.7,654.4 L1661.0,656.9 L1661.3,659.4 L1661.6,661.9 L1661.9,664.3 L1662.2,666.8 L1662.5,669.3 L1662.8,671.8 L1663.1,674.2 L1663.4,676.7 L1663.7,679.2 L1664.0,681.7 L1664.3,684.2 L1664.6,686.6 L1664.8,689.1 L1665.1,691.6 L1665.4,694.1 L1665.7,696.6 L1666.0,699.0 L1666.3,701.5 L1666.6,704.0 L1666.9,706.5 L1667.2,709.0 L1667.5,711.4 L1667.8,713.9 L1668.1,716.4 L1668.4,718.9 L1668.7,721.4 L1668.9,723.8 L1669.2,726.3 L1669.5,728.8 L1669.8,731.3 L1670.1,733.8 L1670.4,736.2 L1670.7,738.7 L1671.0,741.2 L1671.3,743.7 L1671.6,746.2 L1671.8,748.6 L1672.1,751.1 L1672.4,753.6 L1672.7,756.1 L1673.0,758.6 L1673.3,761.0 L1673.6,763.5 L1673.9,766.0 L1674.2,768.5 L1674.4,771.0 L1674.7,773.4 L1675.0,775.9 L1675.3,778.4 L1675.6,780.9 L1675.9,783.4 L1676.2,785.9 L1676.5,788.3 L1676.8,790.8 L1677.1,793.3 L1677.3,795.8 L1677.6,798.3 L1677.9,800.7 L1678.2,803.2 L1678.5,805.7 L1678.8,808.2 L1679.1,810.7 L1679.4,813.1 L1679.7,815.6 L1680.0,818.1 L1680.3,820.6 L1680.6,823.1 L1680.9,825.6 L1681.2,828.0 L1681.5,830.5 L1681.8,833.0 L1682.1,835.5 L1682.4,838.0 L1682.7,840.4 L1683.0,842.9 L1683.3,845.4 L1683.6,847.9 L1683.9,850.4 L1684.2,852.8 L1684.5,855.3 L1684.8,857.8 L1685.1,860.3 L1685.4,862.8 L1685.7,865.2 L1686.0,867.7 L1686.3,870.2 L1686.6,872.7 L1686.9,875.2 L1687.2,877.6 L1687.5,880.1 L1687.8,882.6 L1688.2,885.1 L1688.5,887.6 L1688.8,890.0 L1689.1,892.5 L1689.4,895.0 L1689.7,897.5 L1690.1,900.0 L1690.4,902.4 L1690.7,904.9 L1691.0,907.4 L1691.3,909.9 L1691.7,912.4 L1692.0,914.8 L1692.3,917.3 L1692.6,919.8 L1693.0,922.3 L1693.3,924.8 L1693.6,927.2 L1694.0,929.7 L1694.3,932.2 L1694.6,934.7 L1695.0,937.1 L1695.3,939.6 L1695.6,942.1 L1696.0,944.6 L1696.3,947.1 L1696.7,949.5 L1697.0,952.0 L1697.4,954.5 L1697.7,957.0 L1698.1,959.4 L1698.4,961.9 L1698.8,964.4 L1699.1,966.9 L1699.5,969.3 L1699.8,971.8 L1700.2,974.3 L1700.5,976.8 L1700.9,979.3 L1701.3,981.7 L1701.6,984.2 L1702.0,986.7 L1702.4,989.2 L1702.7,991.6 L1703.1,994.1 L1703.5,996.6 L1703.9,999.0 L1704.2,1001.5 L1704.6,1004.0 L1705.0,1006.5 L1705.4,1008.9 L1705.8,1011.4 L1706.1,1013.9 L1706.5,1016.4 L1706.9,1018.8 L1707.3,1021.3 L1707.7,1023.8 L1708.1,1026.3 L1708.5,1028.7 L1708.9,1031.2 L1709.3,1033.7 L1709.7,1036.1 L1710.1,1038.6 L1710.5,1041.1 L1710.9,1043.6 L1711.3,1046.0 L1711.8,1048.5 L1712.2,1051.0 L1712.6,1053.4 L1713.0,1055.9 L1713.4,1058.4 L1713.9,1060.8 L1714.3,1063.3 L1714.7,1065.8 L1715.1,1068.2 L1715.6,1070.7 L1716.0,1073.2 L1716.5,1075.6 L1716.9,1078.1 L1717.3,1080.6 L1717.8,1083.0 L1718.2,1085.5 L1718.7,1088.0 L1719.2,1090.4 L1719.7,1092.9 L1720.2,1095.3 L1720.7,1097.8 L1721.2,1100.2 L1721.7,1102.7 L1722.3,1105.1 L1722.9,1107.5 L1723.5,1109.9 L1724.2,1112.4 L1724.8,1114.8 L1725.5,1117.1 L1726.2,1119.5 L1727.0,1121.9 L1727.8,1124.3 L1728.6,1126.6 L1729.5,1129.0 L1730.4,1131.3 L1731.3,1133.6 L1732.3,1135.9 L1733.3,1138.2 L1734.4,1140.5 L1735.5,1142.7 L1736.7,1145.0 L1737.9,1147.2 L1739.2,1149.4 L1740.6,1151.6 L1742.0,1153.6 L1743.5,1155.4 L1745.1,1156.9 L1746.9,1158.0 L1748.9,1158.6 L1751.1,1158.6 L1753.4,1158.0 L1755.8,1157.0 L1758.2,1155.5 L1760.6,1153.8 L1763.0,1151.9 L1765.2,1149.9 L1767.3,1147.9 L1769.1,1145.8 L1770.9,1143.7 L1772.4,1141.6 L1773.9,1139.5 L1775.2,1137.4 L1776.4,1135.2 L1777.6,1133.0 L1778.6,1130.8 L1779.6,1128.6 L1780.6,1126.4 L1781.5,1124.2 L1782.4,1121.9 L1783.3,1119.7 L1784.2,1117.4 L1785.0,1115.1 L1785.8,1112.8 L1786.6,1110.5 L1787.4,1108.1 L1788.2,1105.8 L1788.9,1103.5 L1789.6,1101.1 L1790.4,1098.7 L1791.1,1096.4 L1791.7,1094.0 L1792.4,1091.6 L1793.1,1089.2 L1793.7,1086.8 L1794.4,1084.4 L1795.0,1081.9 L1795.6,1079.5 L1796.2,1077.1 L1796.8,1074.6 L1797.4,1072.2 L1798.0,1069.7 L1798.5,1067.3 L1799.1,1064.8 L1799.7,1062.4 L1800.2,1059.9 L1800.8,1057.5 L1801.3,1055.0 L1801.9,1052.5 L1802.4,1050.1 L1802.9,1047.6 L1803.5,1045.1 L1804.0,1042.7 L1804.6,1040.2 L1805.1,1037.7 L1805.6,1035.3 L1806.2,1032.8 L1806.7,1030.3 L1807.3,1027.9 L1807.8,1025.4 L1808.4,1023.0 L1808.9,1020.5 L1809.5,1018.1 L1810.1,1015.6 L1810.6,1013.2 L1811.2,1010.7 L1811.7,1008.3 L1812.3,1005.9 L1812.8,1003.4 L1813.4,1001.0 L1814.0,998.5 L1814.5,996.1 L1815.1,993.7 L1815.6,991.2 L1816.2,988.8 L1816.7,986.4 L1817.3,983.9 L1817.9,981.5 L1818.4,979.0 L1819.0,976.6 L1819.5,974.2 L1820.0,971.7 L1820.6,969.3 L1821.1,966.9 L1821.7,964.4 L1822.2,962.0 L1822.7,959.6 L1823.2,957.1 L1823.8,954.7 L1824.3,952.3 L1824.8,949.8 L1825.3,947.4 L1825.8,945.0 L1826.3,942.5 L1826.8,940.1 L1827.3,937.6 L1827.8,935.2 L1828.3,932.7 L1828.8,930.3 L1829.3,927.9 L1829.7,925.4 L1830.2,923.0 L1830.7,920.5 L1831.1,918.1 L1831.6,915.6 L1832.0,913.2 L1832.5,910.7 L1832.9,908.3 L1833.3,905.8 L1833.8,903.3 L1834.2,900.9 L1834.6,898.4 L1835.0,896.0 L1835.5,893.5 L1835.9,891.1 L1836.3,888.6 L1836.7,886.1 L1837.1,883.7 L1837.5,881.2 L1837.9,878.8 L1838.3,876.3 L1838.7,873.8 L1839.0,871.4 L1839.4,868.9 L1839.8,866.4 L1840.2,864.0 L1840.5,861.5 L1840.9,859.0 L1841.3,856.6 L1841.6,854.1 L1842.0,851.6 L1842.3,849.1 L1842.7,846.7 L1843.0,844.2 L1843.4,841.7 L1843.7,839.2 L1844.1,836.8 L1844.4,834.3 L1844.7,831.8 L1845.1,829.3 L1845.4,826.9 L1845.7,824.4 L1846.1,821.9 L1846.4,819.4 L1846.7,817.0 L1847.0,814.5 L1847.3,812.0 L1847.6,809.5 L1848.0,807.0 L1848.3,804.6 L1848.6,802.1 L1848.9,799.6 L1849.2,797.1 L1849.5,794.6 L1849.8,792.1 L1850.1,789.7 L1850.4,787.2 L1850.7,784.7 L1850.9,782.2 L1851.2,779.7 L1851.5,777.2 L1851.8,774.8 L1852.1,772.3 L1852.4,769.8 L1852.7,767.3 L1852.9,764.8 L1853.2,762.3 L1853.5,759.8 L1853.8,757.4 L1854.0,754.9 L1854.3,752.4 L1854.6,749.9 L1854.9,747.4 L1855.1,744.9 L1855.4,742.4 L1855.7,739.9 L1855.9,737.4 L1856.2,735.0 L1856.5,732.5 L1856.7,730.0 L1857.0,727.5 L1857.3,725.0 L1857.5,722.5 L1857.8,720.0 L1858.0,717.5 L1858.3,715.0 L1858.6,712.6 L1858.8,710.1 L1859.1,707.6 L1859.3,705.1 L1859.6,702.6 L1859.9,700.1 L1860.1,697.6 L1860.4,695.1 L1860.6,692.6 L1860.9,690.2 L1861.2,687.7 L1861.4,685.2 L1861.7,682.7 L1861.9,680.2 L1862.2,677.7 L1862.5,675.2 L1862.7,672.7 L1863.0,670.2 L1863.2,667.8 L1863.5,665.3 L1863.7,662.8 L1864.0,660.3 L1864.3,657.8 L1864.5,655.3 L1864.8,652.8 L1865.0,650.3 L1865.3,647.9 L1865.5,645.4 L1865.8,642.9 L1866.0,640.4 L1866.3,637.9 L1866.6,635.4 L1866.8,632.9 L1867.1,630.4 L1867.3,627.9 L1867.6,625.5 L1867.8,623.0 L1868.1,620.5 L1868.3,618.0 L1868.6,615.5 L1868.8,613.0 L1869.1,610.5 L1869.3,608.0 L1869.6,605.6 L1869.8,603.1 L1870.1,600.6 L1870.3,598.1 L1870.6,595.6 L1870.9,593.1 L1871.1,590.6 L1871.4,588.1 L1871.6,585.7 L1871.9,583.2 L1872.1,580.7 L1872.3,578.2 L1872.6,575.7 L1872.8,573.2 L1873.1,570.7 L1873.3,568.2 L1873.6,565.8 L1873.8,563.3 L1874.1,560.8 L1874.3,558.3 L1874.6,555.8 L1874.8,553.3 L1875.1,550.8 L1875.3,548.3 L1875.6,545.8 L1875.8,543.4 L1876.0,540.9 L1876.3,538.4 L1876.5,535.9 L1876.8,533.4 L1877.0,530.9 L1877.3,528.4 L1877.5,525.9 L1877.7,523.5 L1878.0,521.0 L1878.2,518.5 L1878.5,516.0 L1878.7,513.5 L1878.9,511.0 L1879.2,508.5 L1879.4,506.0 L1879.7,503.6 L1879.9,501.1 L1880.1,498.6 L1880.4,496.1 L1880.6,493.6 L1880.9,491.1 L1881.1,488.6 L1881.3,486.1 L1881.6,483.7 L1881.8,481.2 L1882.0,478.7 L1882.3,476.2 L1882.5,473.7 L1882.7,471.2 L1883.0,468.7 L1883.2,466.2 L1883.4,463.8 L1883.7,461.3 L1883.9,458.8 L1884.1,456.3 L1884.4,453.8 L1884.6,451.3 L1884.8,448.8 L1885.0,446.3 L1885.3,443.9 L1885.5,441.4 L1885.7,438.9 L1886.0,436.4 L1886.2,433.9 L1886.4,431.4 L1886.6,428.9 L1886.9,426.4 L1887.1,423.9 L1887.3,421.5 L1887.5,419.0 L1887.8,416.5 L1888.0,414.0 L1888.2,411.5 L1888.4,409.0 L1888.6,406.5 L1888.9,404.0 L1889.1,401.5 L1889.3,399.1 L1889.5,396.6 L1889.7,394.1 L1890.0,391.6 L1890.2,389.1 L1890.4,386.6 L1890.6,384.1 L1890.8,381.6 L1891.0,379.2 L1891.3,376.7 L1891.5,374.2 L1891.7,371.7 L1891.9,369.2 L1892.1,366.7 L1892.3,364.2 L1892.5,361.7 L1892.7,359.2 L1892.9,356.7 L1893.2,354.3 L1893.4,351.8 L1893.6,349.3 L1893.8,346.8 L1894.0,344.3 L1894.2,341.8 L1894.4,339.3 L1894.6,336.8 L1894.8,334.3 L1895.0,331.9 L1895.2,329.4 L1895.4,326.9 L1895.6,324.4 L1895.8,321.9 L1896.0,319.4 L1896.2,316.9 L1896.4,314.4 L1896.6,311.9 L1896.8,309.4 L1897.0,307.0 L1897.2,304.5 L1897.4,302.0 L1897.6,299.5 L1897.8,297.0 L1898.0,294.5 L1898.2,292.0 L1898.4,289.5 L1898.6,287.0 L1898.8,284.5 L1899.0,282.0 L1899.2,279.6 L1899.4,277.1 L1899.5,274.6 L1899.7,272.1 L1899.9,269.6 L1900.1,267.1 L1900.3,264.6 L1900.5,262.1 L1900.7,259.6 L1900.8,257.1 L1901.0,254.6 L1901.2,252.1 L1901.4,249.7 L1901.6,247.2 L1901.8,244.7 L1901.9,242.2 L1902.1,239.7 L1902.3,237.2 L1902.5,234.7 L1902.7,232.2 L1902.8,229.7 L1903.0,227.2 L1903.2,224.7 L1903.4,222.2 L1903.5,219.7 L1903.7,217.2 L1903.9,214.8 L1904.0,212.3 L1904.2,209.8 L1904.4,207.3 L1904.6,204.8 L1904.7,202.3 L1904.9,199.8 L1905.1,197.3 L1905.2,194.8 L1905.4,192.3 L1905.5,189.8 L1905.7,187.3 L1905.9,184.8 L1906.0,182.3 L1906.2,179.8 L1906.4,177.3 L1906.5,174.8 L1906.7,172.4 L1906.8,169.9 L1907.0,167.4 L1907.1,164.9 L1907.3,162.4 L1907.5,159.9 L1907.6,157.4 L1907.8,154.9 L1907.9,152.4 L1908.1,149.9 L1908.2,147.4 L1908.4,144.9 L1908.5,142.4 L1908.7,139.9 L1908.8,137.4 L1909.0,134.9 L1909.1,132.4 L1909.2,129.9 L1909.4,127.4 L1909.5,124.9 L1909.7,122.4 L1909.8,119.9 L1909.9,117.4 L1910.1,114.9 L1910.2,112.4 L1910.4,109.9 L1910.5,107.4 L1910.6,105.0 L1910.8,102.5 L1910.9,100.0 L1911.0,97.5 L1911.2,95.0 L1911.3,92.5 L1911.4,90.0 L1911.6,87.5 L1911.7,85.0 L1911.8,82.5 L1911.9,80.0 L1912.1,77.5 L1912.2,75.0 L1912.3,72.5 L1912.4,70.0 L1912.6,67.5 L1912.7,65.0 L1912.8,62.5 L1912.9,60.0" stroke="#ffb978" stroke-width="6.3"/>
</g>
<g font-family="Liberation Sans, Arial, sans-serif" font-weight="bold" font-size="68" fill="#000">
<text transform="translate(260.2,1312.8) scale(1,1.045)" text-anchor="end">0</text>
<text transform="translate(260.2,1006.0) scale(1,1.045)" text-anchor="end">5</text>
<text transform="translate(260.2,699.3) scale(1,1.045)" text-anchor="end">10</text>
<text transform="translate(260.2,392.5) scale(1,1.045)" text-anchor="end">15</text>
<text transform="translate(260.2,85.8) scale(1,1.045)" text-anchor="end">20</text>
<text transform="translate(288.6,1436.6) scale(1,1.025)" text-anchor="middle">-30</text>
<text transform="translate(507.6,1436.6) scale(1,1.025)" text-anchor="middle">-20</text>
<text transform="translate(726.6,1436.6) scale(1,1.025)" text-anchor="middle">-10</text>
<text transform="translate(945.6,1436.6) scale(1,1.025)" text-anchor="middle">0</text>
<text transform="translate(1164.6,1436.6) scale(1,1.025)" text-anchor="middle">10</text>
<text transform="translate(1383.6,1436.6) scale(1,1.025)" text-anchor="middle">20</text>
<text transform="translate(1602.6,1436.6) scale(1,1.025)" text-anchor="middle">30</text>
<text transform="translate(1821.6,1436.6) scale(1,1.025)" text-anchor="middle">40</text>
<text transform="translate(2040.6,1436.6) scale(1,1.025)" text-anchor="middle">50</text>
</g>
<text transform="translate(84.6,828) rotate(-90)" font-family="Liberation Sans, Arial, sans-serif" font-weight="bold" font-size="70">I (pA)</text>
<text x="1075" y="1555.6" font-family="Liberation Sans, Arial, sans-serif" font-weight="bold" font-size="68">T (ºC)</text>
<line x1="413" y1="872.5" x2="556" y2="872.5" stroke="#000000" stroke-width="6.6" stroke-linecap="round"/>
<text x="572.5" y="894.5" font-family="Liberation Sans, Arial, sans-serif" font-size="66">T</text>
<text x="610.4" y="918.6" font-family="Liberation Sans, Arial, sans-serif" font-size="39.5">p</text>
<text x="649.8" y="894.5" font-family="Liberation Sans, Arial, sans-serif" font-size="66">=</text>
<text x="704.3" y="894.5" font-family="Liberation Sans, Arial, sans-serif" font-size="66">22</text>
<text x="795.4" y="890.9" font-family="Liberation Sans, Arial, sans-serif" font-size="61">º</text>
<text x="817.7" y="894.5" font-family="Liberation Sans, Arial, sans-serif" font-size="66">C</text>
<line x1="413" y1="972.4" x2="556" y2="972.4" stroke="#ff0000" stroke-width="6.6" stroke-linecap="round"/>
<text x="572.5" y="994.1" font-family="Liberation Sans, Arial, sans-serif" font-size="66">T</text>
<text x="610.4" y="1018.2" font-family="Liberation Sans, Arial, sans-serif" font-size="39.5">p</text>
<text x="649.8" y="994.1" font-family="Liberation Sans, Arial, sans-serif" font-size="66">=</text>
<text x="704.3" y="994.1" font-family="Liberation Sans, Arial, sans-serif" font-size="66">25</text>
<text x="795.4" y="990.5" font-family="Liberation Sans, Arial, sans-serif" font-size="61">º</text>
<text x="817.7" y="994.1" font-family="Liberation Sans, Arial, sans-serif" font-size="66">C</text>
<line x1="413" y1="1072.3" x2="556" y2="1072.3" stroke="#ec6a00" stroke-width="6.6" stroke-linecap="round"/>
<text x="572.5" y="1093.8" font-family="Liberation Sans, Arial, sans-serif" font-size="66">T</text>
<text x="610.4" y="1117.9" font-family="Liberation Sans, Arial, sans-serif" font-size="39.5">p</text>
<text x="649.8" y="1093.8" font-family="Liberation Sans, Arial, sans-serif" font-size="66">=</text>
<text x="704.3" y="1093.8" font-family="Liberation Sans, Arial, sans-serif" font-size="66">29</text>
<text x="795.4" y="1090.2" font-family="Liberation Sans, Arial, sans-serif" font-size="61">º</text>
<text x="817.7" y="1093.8" font-family="Liberation Sans, Arial, sans-serif" font-size="66">C</text>
<line x1="413" y1="1172.2" x2="556" y2="1172.2" stroke="#ffb978" stroke-width="6.6" stroke-linecap="round"/>
<text x="572.5" y="1193.5" font-family="Liberation Sans, Arial, sans-serif" font-size="66">T</text>
<text x="610.4" y="1217.5" font-family="Liberation Sans, Arial, sans-serif" font-size="39.5">p</text>
<text x="649.8" y="1193.5" font-family="Liberation Sans, Arial, sans-serif" font-size="66">=</text>
<text x="704.3" y="1193.5" font-family="Liberation Sans, Arial, sans-serif" font-size="66">33</text>
<text x="795.4" y="1189.9" font-family="Liberation Sans, Arial, sans-serif" font-size="61">º</text>
<text x="817.7" y="1193.5" font-family="Liberation Sans, Arial, sans-serif" font-size="66">C</text>
<rect x="450" y="197" width="217" height="456" fill="url(#hatch)"/>
<line x1="450" y1="197" x2="450" y2="706" stroke="#000" stroke-width="2.6" stroke-dasharray="2.6,3.6"/>
<line x1="525" y1="197" x2="525" y2="706" stroke="#000" stroke-width="3" stroke-dasharray="3,4"/>
<line x1="422" y1="653.4" x2="668" y2="653.4" stroke="#000" stroke-width="3.8" stroke-dasharray="3.8,4.2"/>
<line x1="422" y1="190.5" x2="450" y2="190.5" stroke="#000" stroke-width="2.6" stroke-dasharray="2.6,3.6"/>
<line x1="419" y1="104" x2="419" y2="711" stroke="#000" stroke-width="6.4"/>
<polygon points="418.6,88 407.5,110 429.7,110" fill="#000"/>
<line x1="423" y1="710.3" x2="1218" y2="710.3" stroke="#000" stroke-width="6.6"/>
<polygon points="1235,710.3 1213.5,699.5 1213.5,721" fill="#000"/>
<polyline points="685,645.5 690,645.2 1122.7,189.5" fill="none" stroke="#000" stroke-width="2.4"/>
<path d="M705.0,634.0 C716.7,622.3 727.9,610.8 740.0,599.0 C752.8,586.5 766.7,573.9 780.0,561.0 C793.4,547.9 807.5,534.0 820.0,521.0 C831.4,509.1 842.4,498.2 852.0,486.0 C861.3,474.2 870.2,460.2 877.0,449.0 C882.3,440.3 886.3,433.0 890.0,425.0 C893.5,417.4 896.5,410.1 899.0,402.0 C901.6,393.5 904.1,383.4 905.0,375.0 C905.8,367.9 905.3,362.5 905.0,355.0 C904.6,345.3 903.8,331.4 902.0,321.5 C900.5,313.5 898.2,306.6 896.0,300.0 C894.1,294.2 892.2,289.7 889.8,284.0 C887.0,277.2 883.3,268.9 880.0,262.0 C877.0,255.7 874.1,250.4 871.0,244.0 C867.5,236.8 863.3,228.2 860.0,221.0 C857.2,214.8 854.6,208.9 852.5,203.5 C850.7,199.0 848.0,194.3 848.0,191.0 C848.0,188.8 848.7,186.7 850.0,185.5 C851.3,184.3 853.8,183.8 856.0,184.0 C858.9,184.2 862.0,185.9 866.0,188.0 C873.0,191.7 882.8,199.4 893.0,206.6 C906.5,216.2 924.0,229.3 939.5,240.7 C955.0,252.1 973.0,265.7 986.0,275.0 C995.2,281.6 1003.7,287.2 1010.0,291.5 C1014.1,294.3 1016.9,297.0 1020.0,298.5 C1022.3,299.6 1024.3,299.8 1026.5,300.5" fill="none" stroke="#ff0000" stroke-width="2.6"/>
<polygon points="451.0,184.0 536.0,184.0 536.0,193.0 687.4,658.4 673.2,662.6 525.2,198.1 451.0,198.1" fill="#00648f" stroke="#000a14" stroke-width="3" stroke-linejoin="miter"/>
<line x1="519.0" y1="184" x2="523.9" y2="199" stroke="#000a14" stroke-width="2.2"/>
<text x="332" y="180.6" font-family="Liberation Sans, Arial, sans-serif" font-size="59" transform="translate(332,0) scale(0.86,1) translate(-332,0)">T</text>
<text x="360" y="194" font-family="Liberation Sans, Arial, sans-serif" font-size="38">p</text>
<text x="448" y="157.8" font-family="Liberation Sans, Arial, sans-serif" font-weight="bold" font-size="60">E</text>
<text x="487" y="173" font-family="Liberation Sans, Arial, sans-serif" font-weight="bold" font-size="40">P</text>
<text x="333.5" y="648.2" font-family="Liberation Sans, Arial, sans-serif" font-size="55" transform="translate(333.5,0) scale(0.88,1) translate(-333.5,0)">T</text>
<text x="362.5" y="663" font-family="Liberation Sans, Arial, sans-serif" font-size="36.5">0</text>
<text x="468" y="769.6" font-family="Liberation Sans, Arial, sans-serif" font-size="55">t</text>
<text x="487.5" y="785" font-family="Liberation Sans, Arial, sans-serif" font-size="37">p</text>
<text x="1032" y="761.2" font-family="Liberation Sans, Arial, sans-serif" font-size="47.5">time</text>
<text transform="translate(403.3,584.5) rotate(-90)" font-family="Liberation Sans, Arial, sans-serif" font-size="48.6">Temperature</text>
</svg>
</body></html>
